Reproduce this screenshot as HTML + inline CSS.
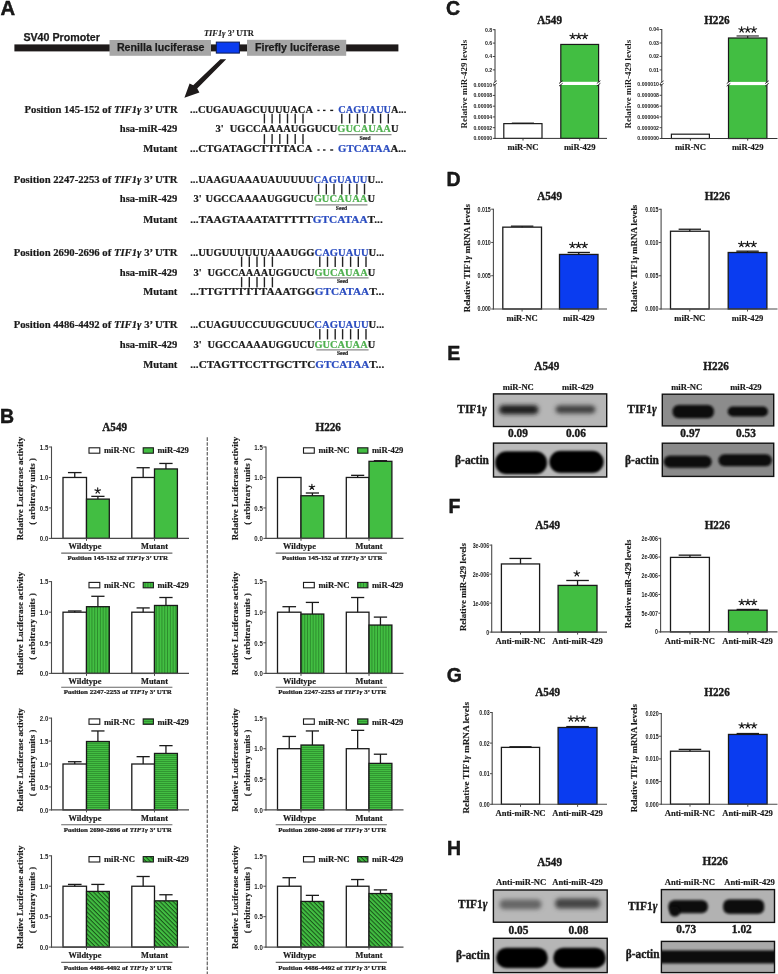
<!DOCTYPE html>
<html><head><meta charset="utf-8"><style>
html,body{margin:0;padding:0;background:#fff;}
svg{display:block;will-change:transform;}
</style></head><body>
<svg width="778" height="974" viewBox="0 0 778 974">
<rect width="778" height="974" fill="#fff"/>
<defs>
<pattern id="pv" patternUnits="userSpaceOnUse" width="2.8" height="10"><rect width="2.8" height="10" fill="#42be42"/><rect x="1.9" width="0.9" height="10" fill="#2b8a2b"/></pattern>
<pattern id="ph" patternUnits="userSpaceOnUse" width="10" height="2.0"><rect width="10" height="2.0" fill="#42be42"/><rect y="1.25" width="10" height="0.75" fill="#2b8a2b"/></pattern>
<pattern id="pd" patternUnits="userSpaceOnUse" width="3.1" height="10" patternTransform="rotate(-45)"><rect width="3.1" height="10" fill="#42be42"/><rect x="2.05" width="1.05" height="10" fill="#1a561a"/></pattern>
<filter id="blur1" x="-30%" y="-60%" width="160%" height="220%"><feGaussianBlur stdDeviation="1.6"/></filter>
<filter id="blur2" x="-30%" y="-60%" width="160%" height="220%"><feGaussianBlur stdDeviation="2.4"/></filter>
<filter id="blur3" x="-10%" y="-30%" width="120%" height="160%"><feGaussianBlur stdDeviation="0.7"/></filter>
<filter id="bl6" x="-40%" y="-80%" width="180%" height="260%"><feGaussianBlur stdDeviation="0.6"/></filter>
<filter id="bl7" x="-40%" y="-80%" width="180%" height="260%"><feGaussianBlur stdDeviation="0.7"/></filter>
<filter id="bl8" x="-40%" y="-80%" width="180%" height="260%"><feGaussianBlur stdDeviation="0.8"/></filter>
<filter id="bl9" x="-40%" y="-80%" width="180%" height="260%"><feGaussianBlur stdDeviation="0.9"/></filter>
<filter id="bl10" x="-40%" y="-80%" width="180%" height="260%"><feGaussianBlur stdDeviation="1.0"/></filter>
<filter id="bl11" x="-40%" y="-80%" width="180%" height="260%"><feGaussianBlur stdDeviation="1.1"/></filter>
<filter id="bl12" x="-40%" y="-80%" width="180%" height="260%"><feGaussianBlur stdDeviation="1.2"/></filter>
<filter id="bl13" x="-40%" y="-80%" width="180%" height="260%"><feGaussianBlur stdDeviation="1.3"/></filter>
<filter id="bl15" x="-40%" y="-80%" width="180%" height="260%"><feGaussianBlur stdDeviation="1.5"/></filter>
<filter id="bl18" x="-40%" y="-80%" width="180%" height="260%"><feGaussianBlur stdDeviation="1.8"/></filter>
<filter id="bl20" x="-40%" y="-80%" width="180%" height="260%"><feGaussianBlur stdDeviation="2.0"/></filter>
</defs>
<text transform="translate(0.60,14.96) scale(1.04,1.0)" x="0" y="0" font-family="Liberation Sans" font-size="19.5" font-weight="bold" text-anchor="start" fill="#1a1a1a" stroke="#000" stroke-width="0.4">A</text>
<rect x="14.40" y="44.40" width="384.00" height="7.00" fill="#1e1a1a" stroke="none" stroke-width="1.0" />
<rect x="109.50" y="40.00" width="101.50" height="15.80" fill="#a6a6a6" stroke="none" stroke-width="1.0" />
<text x="116.90" y="51.30" font-family="Liberation Sans" font-size="10.65" font-weight="bold" text-anchor="start" fill="#1a1a1a" textLength="87.6" lengthAdjust="spacingAndGlyphs" stroke="#1a1a1a" stroke-width="0.25">Renilla luciferase</text>
<rect x="247.00" y="39.80" width="99.20" height="16.00" fill="#a6a6a6" stroke="none" stroke-width="1.0" />
<text x="254.90" y="51.30" font-family="Liberation Sans" font-size="10.65" font-weight="bold" text-anchor="start" fill="#1a1a1a" textLength="85" lengthAdjust="spacingAndGlyphs" stroke="#1a1a1a" stroke-width="0.25">Firefly luciferase</text>
<rect x="216.30" y="42.10" width="23.10" height="11.00" fill="#0a3cf0" stroke="#0b1a50" stroke-width="1.0" />
<text x="23.40" y="40.50" font-family="Liberation Sans" font-size="10.65" font-weight="bold" text-anchor="start" fill="#1a1a1a" textLength="76.5" lengthAdjust="spacingAndGlyphs" stroke="#1a1a1a" stroke-width="0.25">SV40 Promoter</text>
<text transform="translate(203.9,35.5) scale(1,0.92)" font-family="Liberation Serif" font-size="8.4" font-weight="bold" fill="#1a1a1a" stroke="#1a1a1a" stroke-width="0.12" textLength="50" lengthAdjust="spacingAndGlyphs"><tspan font-style="italic">TIF1γ</tspan> 3’ UTR</text>
<path d="M220.4,59.3 L226.2,59.3 L197.2,88.6 L199.4,92.4 L184.4,97.8 L189.6,83.6 L193.2,85.2 Z" fill="#1e1a1a"/>
<text transform="translate(177.6,112.80) scale(1,1.06)" font-family="Liberation Serif" font-size="10.6" font-weight="bold" text-anchor="end" fill="#1a1a1a" stroke="#1a1a1a" stroke-width="0.2" textLength="153.1" lengthAdjust="spacingAndGlyphs">Position 145-152 of <tspan font-style="italic">TIF1γ</tspan> 3’ UTR</text>
<text transform="translate(177.40,132.40) scale(1.0,1.06)" x="0" y="0" font-family="Liberation Serif" font-size="10.6" font-weight="bold" text-anchor="end" fill="#1a1a1a"  stroke="#1a1a1a" stroke-width="0.2">hsa-miR-429</text>
<text transform="translate(177.40,152.40) scale(1.0,1.06)" x="0" y="0" font-family="Liberation Serif" font-size="10.6" font-weight="bold" text-anchor="end" fill="#1a1a1a"  stroke="#1a1a1a" stroke-width="0.2">Mutant</text>
<text transform="translate(190.00,112.80) scale(1,1.06)" font-family="Liberation Serif" font-size="10.6" font-weight="bold" fill="#1a1a1a" stroke="#1a1a1a" stroke-width="0.2" xml:space="preserve" textLength="123.0" lengthAdjust="spacingAndGlyphs">...CUGAUAGCUUUUACA</text>
<line x1="317.40" y1="110.40" x2="319.60" y2="110.40" stroke="#1a1a1a" stroke-width="1.4" />
<line x1="323.00" y1="110.40" x2="325.50" y2="110.40" stroke="#1a1a1a" stroke-width="1.4" />
<line x1="330.20" y1="110.40" x2="333.20" y2="110.40" stroke="#1a1a1a" stroke-width="1.4" />
<text transform="translate(338.30,112.80) scale(1,1.06)" font-family="Liberation Serif" font-size="10.6" font-weight="bold" fill="#1a1a1a" stroke="#1a1a1a" stroke-width="0.2" xml:space="preserve" textLength="68.0" lengthAdjust="spacingAndGlyphs"><tspan fill="#2a4cc0" stroke="#2a4cc0">CAGUAUU</tspan>A...</text>
<text transform="translate(215.40,132.30) scale(1,1.06)" font-family="Liberation Serif" font-size="10.6" font-weight="bold" fill="#1a1a1a" stroke="#1a1a1a" stroke-width="0.2">3&#39;</text>
<text transform="translate(229.70,132.30) scale(1,1.06)" font-family="Liberation Serif" font-size="10.6" font-weight="bold" fill="#1a1a1a" stroke="#1a1a1a" stroke-width="0.2" xml:space="preserve" textLength="168.8" lengthAdjust="spacingAndGlyphs">UGCCAAAAUGGUCU<tspan fill="#4fb04f" stroke="#4fb04f">GUCAUAA</tspan>U</text>
<text transform="translate(190.00,152.40) scale(1,1.06)" font-family="Liberation Serif" font-size="10.6" font-weight="bold" fill="#1a1a1a" stroke="#1a1a1a" stroke-width="0.2" xml:space="preserve" textLength="122.4" lengthAdjust="spacingAndGlyphs">...CTGATAGCTTTTACA</text>
<line x1="317.40" y1="150.00" x2="319.60" y2="150.00" stroke="#1a1a1a" stroke-width="1.4" />
<line x1="323.00" y1="150.00" x2="325.50" y2="150.00" stroke="#1a1a1a" stroke-width="1.4" />
<line x1="330.20" y1="150.00" x2="333.20" y2="150.00" stroke="#1a1a1a" stroke-width="1.4" />
<text transform="translate(338.10,152.40) scale(1,1.06)" font-family="Liberation Serif" font-size="10.6" font-weight="bold" fill="#1a1a1a" stroke="#1a1a1a" stroke-width="0.2" xml:space="preserve" textLength="68.2" lengthAdjust="spacingAndGlyphs"><tspan fill="#2a4cc0" stroke="#2a4cc0">GTCATAA</tspan>A...</text>
<line x1="264.40" y1="113.70" x2="264.40" y2="123.40" stroke="#222" stroke-width="1.4" />
<line x1="272.10" y1="113.70" x2="272.10" y2="123.40" stroke="#222" stroke-width="1.4" />
<line x1="279.80" y1="113.70" x2="279.80" y2="123.40" stroke="#222" stroke-width="1.4" />
<line x1="287.50" y1="113.70" x2="287.50" y2="123.40" stroke="#222" stroke-width="1.4" />
<line x1="295.20" y1="113.70" x2="295.20" y2="123.40" stroke="#222" stroke-width="1.4" />
<line x1="303.00" y1="113.70" x2="303.00" y2="123.40" stroke="#222" stroke-width="1.4" />
<line x1="341.80" y1="113.70" x2="341.80" y2="123.40" stroke="#222" stroke-width="1.4" />
<line x1="349.60" y1="113.70" x2="349.60" y2="123.40" stroke="#222" stroke-width="1.4" />
<line x1="357.40" y1="113.70" x2="357.40" y2="123.40" stroke="#222" stroke-width="1.4" />
<line x1="364.90" y1="113.70" x2="364.90" y2="123.40" stroke="#222" stroke-width="1.4" />
<line x1="372.80" y1="113.70" x2="372.80" y2="123.40" stroke="#222" stroke-width="1.4" />
<line x1="380.60" y1="113.70" x2="380.60" y2="123.40" stroke="#222" stroke-width="1.4" />
<line x1="388.30" y1="113.70" x2="388.30" y2="123.40" stroke="#222" stroke-width="1.4" />
<line x1="264.40" y1="134.10" x2="264.40" y2="144.10" stroke="#222" stroke-width="1.4" />
<line x1="272.10" y1="134.10" x2="272.10" y2="144.10" stroke="#222" stroke-width="1.4" />
<line x1="279.80" y1="134.10" x2="279.80" y2="144.10" stroke="#222" stroke-width="1.4" />
<line x1="287.50" y1="134.10" x2="287.50" y2="144.10" stroke="#222" stroke-width="1.4" />
<line x1="295.20" y1="134.10" x2="295.20" y2="144.10" stroke="#222" stroke-width="1.4" />
<line x1="303.00" y1="134.10" x2="303.00" y2="144.10" stroke="#222" stroke-width="1.4" />
<line x1="338.60" y1="134.60" x2="391.50" y2="134.60" stroke="#8a8a8a" stroke-width="1.2" />
<text x="365.05" y="140.40" font-family="Liberation Serif" font-size="5.6" font-weight="bold" text-anchor="middle" fill="#1a1a1a"  stroke="#1a1a1a" stroke-width="0.15">Seed</text>
<text transform="translate(177.6,182.50) scale(1,1.06)" font-family="Liberation Serif" font-size="10.6" font-weight="bold" text-anchor="end" fill="#1a1a1a" stroke="#1a1a1a" stroke-width="0.2" textLength="163.9" lengthAdjust="spacingAndGlyphs">Position 2247-2253 of <tspan font-style="italic">TIF1γ</tspan> 3’ UTR</text>
<text transform="translate(177.40,202.30) scale(1.0,1.06)" x="0" y="0" font-family="Liberation Serif" font-size="10.6" font-weight="bold" text-anchor="end" fill="#1a1a1a"  stroke="#1a1a1a" stroke-width="0.2">hsa-miR-429</text>
<text transform="translate(177.40,222.50) scale(1.0,1.06)" x="0" y="0" font-family="Liberation Serif" font-size="10.6" font-weight="bold" text-anchor="end" fill="#1a1a1a"  stroke="#1a1a1a" stroke-width="0.2">Mutant</text>
<text transform="translate(190.20,182.50) scale(1,1.06)" font-family="Liberation Serif" font-size="10.6" font-weight="bold" fill="#1a1a1a" stroke="#1a1a1a" stroke-width="0.2" xml:space="preserve" textLength="192.9" lengthAdjust="spacingAndGlyphs">...UAAGUAAAUAUUUUU<tspan fill="#2a4cc0" stroke="#2a4cc0">CAGUAUU</tspan>U...</text>
<text transform="translate(193.40,202.40) scale(1,1.06)" font-family="Liberation Serif" font-size="10.6" font-weight="bold" fill="#1a1a1a" stroke="#1a1a1a" stroke-width="0.2">3&#39;</text>
<text transform="translate(205.60,202.40) scale(1,1.06)" font-family="Liberation Serif" font-size="10.6" font-weight="bold" fill="#1a1a1a" stroke="#1a1a1a" stroke-width="0.2" xml:space="preserve" textLength="169.4" lengthAdjust="spacingAndGlyphs">UGCCAAAAUGGUCU<tspan fill="#4fb04f" stroke="#4fb04f">GUCAUAA</tspan>U</text>
<text transform="translate(190.20,222.50) scale(1,1.06)" font-family="Liberation Serif" font-size="10.6" font-weight="bold" fill="#1a1a1a" stroke="#1a1a1a" stroke-width="0.2" xml:space="preserve" textLength="192.6" lengthAdjust="spacingAndGlyphs">...TAAGTAAATATTTTT<tspan fill="#2a4cc0" stroke="#2a4cc0">GTCATAA</tspan>T...</text>
<line x1="318.60" y1="183.70" x2="318.60" y2="194.50" stroke="#222" stroke-width="1.4" />
<line x1="326.30" y1="183.70" x2="326.30" y2="194.50" stroke="#222" stroke-width="1.4" />
<line x1="334.00" y1="183.70" x2="334.00" y2="194.50" stroke="#222" stroke-width="1.4" />
<line x1="341.80" y1="183.70" x2="341.80" y2="194.50" stroke="#222" stroke-width="1.4" />
<line x1="349.50" y1="183.70" x2="349.50" y2="194.50" stroke="#222" stroke-width="1.4" />
<line x1="356.90" y1="183.70" x2="356.90" y2="194.50" stroke="#222" stroke-width="1.4" />
<line x1="364.50" y1="183.70" x2="364.50" y2="194.50" stroke="#222" stroke-width="1.4" />
<line x1="315.40" y1="204.80" x2="367.50" y2="204.80" stroke="#8a8a8a" stroke-width="1.2" />
<text x="341.45" y="210.30" font-family="Liberation Serif" font-size="5.6" font-weight="bold" text-anchor="middle" fill="#1a1a1a"  stroke="#1a1a1a" stroke-width="0.15">Seed</text>
<text transform="translate(177.6,255.50) scale(1,1.06)" font-family="Liberation Serif" font-size="10.6" font-weight="bold" text-anchor="end" fill="#1a1a1a" stroke="#1a1a1a" stroke-width="0.2" textLength="163.9" lengthAdjust="spacingAndGlyphs">Position 2690-2696 of <tspan font-style="italic">TIF1γ</tspan> 3’ UTR</text>
<text transform="translate(177.40,275.60) scale(1.0,1.06)" x="0" y="0" font-family="Liberation Serif" font-size="10.6" font-weight="bold" text-anchor="end" fill="#1a1a1a"  stroke="#1a1a1a" stroke-width="0.2">hsa-miR-429</text>
<text transform="translate(177.40,295.40) scale(1.0,1.06)" x="0" y="0" font-family="Liberation Serif" font-size="10.6" font-weight="bold" text-anchor="end" fill="#1a1a1a"  stroke="#1a1a1a" stroke-width="0.2">Mutant</text>
<text transform="translate(190.30,255.50) scale(1,1.06)" font-family="Liberation Serif" font-size="10.6" font-weight="bold" fill="#1a1a1a" stroke="#1a1a1a" stroke-width="0.2" xml:space="preserve" textLength="193.9" lengthAdjust="spacingAndGlyphs">...UUGUUUUUUAAAUGG<tspan fill="#2a4cc0" stroke="#2a4cc0">CAGUAUU</tspan>U...</text>
<text transform="translate(193.40,275.60) scale(1,1.06)" font-family="Liberation Serif" font-size="10.6" font-weight="bold" fill="#1a1a1a" stroke="#1a1a1a" stroke-width="0.2">3&#39;</text>
<text transform="translate(207.50,275.60) scale(1,1.06)" font-family="Liberation Serif" font-size="10.6" font-weight="bold" fill="#1a1a1a" stroke="#1a1a1a" stroke-width="0.2" xml:space="preserve" textLength="167.7" lengthAdjust="spacingAndGlyphs">UGCCAAAAUGGUCU<tspan fill="#4fb04f" stroke="#4fb04f">GUCAUAA</tspan>U</text>
<text transform="translate(190.30,295.40) scale(1,1.06)" font-family="Liberation Serif" font-size="10.6" font-weight="bold" fill="#1a1a1a" stroke="#1a1a1a" stroke-width="0.2" xml:space="preserve" textLength="193.9" lengthAdjust="spacingAndGlyphs">...TTGTTTTTTAAATGG<tspan fill="#2a4cc0" stroke="#2a4cc0">GTCATAA</tspan>T...</text>
<line x1="241.60" y1="256.60" x2="241.60" y2="266.90" stroke="#222" stroke-width="1.4" />
<line x1="249.30" y1="256.60" x2="249.30" y2="266.90" stroke="#222" stroke-width="1.4" />
<line x1="257.00" y1="256.60" x2="257.00" y2="266.90" stroke="#222" stroke-width="1.4" />
<line x1="264.40" y1="256.60" x2="264.40" y2="266.90" stroke="#222" stroke-width="1.4" />
<line x1="272.40" y1="256.60" x2="272.40" y2="266.90" stroke="#222" stroke-width="1.4" />
<line x1="319.80" y1="256.60" x2="319.80" y2="266.90" stroke="#222" stroke-width="1.4" />
<line x1="327.50" y1="256.60" x2="327.50" y2="266.90" stroke="#222" stroke-width="1.4" />
<line x1="335.20" y1="256.60" x2="335.20" y2="266.90" stroke="#222" stroke-width="1.4" />
<line x1="342.60" y1="256.60" x2="342.60" y2="266.90" stroke="#222" stroke-width="1.4" />
<line x1="350.60" y1="256.60" x2="350.60" y2="266.90" stroke="#222" stroke-width="1.4" />
<line x1="358.30" y1="256.60" x2="358.30" y2="266.90" stroke="#222" stroke-width="1.4" />
<line x1="366.00" y1="256.60" x2="366.00" y2="266.90" stroke="#222" stroke-width="1.4" />
<line x1="241.60" y1="277.10" x2="241.60" y2="287.40" stroke="#222" stroke-width="1.4" />
<line x1="249.30" y1="277.10" x2="249.30" y2="287.40" stroke="#222" stroke-width="1.4" />
<line x1="257.00" y1="277.10" x2="257.00" y2="287.40" stroke="#222" stroke-width="1.4" />
<line x1="264.40" y1="277.10" x2="264.40" y2="287.40" stroke="#222" stroke-width="1.4" />
<line x1="272.40" y1="277.10" x2="272.40" y2="287.40" stroke="#222" stroke-width="1.4" />
<line x1="316.40" y1="277.80" x2="368.60" y2="277.80" stroke="#8a8a8a" stroke-width="1.2" />
<text x="342.50" y="283.10" font-family="Liberation Serif" font-size="5.6" font-weight="bold" text-anchor="middle" fill="#1a1a1a"  stroke="#1a1a1a" stroke-width="0.15">Seed</text>
<text transform="translate(177.6,328.00) scale(1,1.06)" font-family="Liberation Serif" font-size="10.6" font-weight="bold" text-anchor="end" fill="#1a1a1a" stroke="#1a1a1a" stroke-width="0.2" textLength="163.9" lengthAdjust="spacingAndGlyphs">Position 4486-4492 of <tspan font-style="italic">TIF1γ</tspan> 3’ UTR</text>
<text transform="translate(177.40,347.60) scale(1.0,1.06)" x="0" y="0" font-family="Liberation Serif" font-size="10.6" font-weight="bold" text-anchor="end" fill="#1a1a1a"  stroke="#1a1a1a" stroke-width="0.2">hsa-miR-429</text>
<text transform="translate(177.40,367.90) scale(1.0,1.06)" x="0" y="0" font-family="Liberation Serif" font-size="10.6" font-weight="bold" text-anchor="end" fill="#1a1a1a"  stroke="#1a1a1a" stroke-width="0.2">Mutant</text>
<text transform="translate(190.30,328.00) scale(1,1.06)" font-family="Liberation Serif" font-size="10.6" font-weight="bold" fill="#1a1a1a" stroke="#1a1a1a" stroke-width="0.2" xml:space="preserve" textLength="193.9" lengthAdjust="spacingAndGlyphs">...CUAGUUCCUUGCUUC<tspan fill="#2a4cc0" stroke="#2a4cc0">CAGUAUU</tspan>U...</text>
<text transform="translate(193.40,347.60) scale(1,1.06)" font-family="Liberation Serif" font-size="10.6" font-weight="bold" fill="#1a1a1a" stroke="#1a1a1a" stroke-width="0.2">3&#39;</text>
<text transform="translate(207.50,347.60) scale(1,1.06)" font-family="Liberation Serif" font-size="10.6" font-weight="bold" fill="#1a1a1a" stroke="#1a1a1a" stroke-width="0.2" xml:space="preserve" textLength="167.7" lengthAdjust="spacingAndGlyphs">UGCCAAAAUGGUCU<tspan fill="#4fb04f" stroke="#4fb04f">GUCAUAA</tspan>U</text>
<text transform="translate(190.30,367.90) scale(1,1.06)" font-family="Liberation Serif" font-size="10.6" font-weight="bold" fill="#1a1a1a" stroke="#1a1a1a" stroke-width="0.2" xml:space="preserve" textLength="193.9" lengthAdjust="spacingAndGlyphs">...CTAGTTCCTTGCTTC<tspan fill="#2a4cc0" stroke="#2a4cc0">GTCATAA</tspan>T...</text>
<line x1="319.80" y1="329.10" x2="319.80" y2="339.40" stroke="#222" stroke-width="1.4" />
<line x1="327.50" y1="329.10" x2="327.50" y2="339.40" stroke="#222" stroke-width="1.4" />
<line x1="335.20" y1="329.10" x2="335.20" y2="339.40" stroke="#222" stroke-width="1.4" />
<line x1="342.60" y1="329.10" x2="342.60" y2="339.40" stroke="#222" stroke-width="1.4" />
<line x1="350.60" y1="329.10" x2="350.60" y2="339.40" stroke="#222" stroke-width="1.4" />
<line x1="358.30" y1="329.10" x2="358.30" y2="339.40" stroke="#222" stroke-width="1.4" />
<line x1="366.00" y1="329.10" x2="366.00" y2="339.40" stroke="#222" stroke-width="1.4" />
<line x1="316.40" y1="349.80" x2="368.60" y2="349.80" stroke="#8a8a8a" stroke-width="1.2" />
<text x="342.50" y="355.10" font-family="Liberation Serif" font-size="5.6" font-weight="bold" text-anchor="middle" fill="#1a1a1a"  stroke="#1a1a1a" stroke-width="0.15">Seed</text>
<text x="0.00" y="422.66" font-family="Liberation Sans" font-size="19.5" font-weight="bold" text-anchor="start" fill="#1a1a1a" stroke="#000" stroke-width="0.4">B</text>
<text transform="translate(114.70,430.50) scale(1.0,1.14)" x="0" y="0" font-family="Liberation Serif" font-size="11.2" font-weight="bold" text-anchor="middle" fill="#1a1a1a"  stroke="#1a1a1a" stroke-width="0.35">A549</text>
<text transform="translate(328.20,430.50) scale(1.0,1.14)" x="0" y="0" font-family="Liberation Serif" font-size="11.2" font-weight="bold" text-anchor="middle" fill="#1a1a1a"  stroke="#1a1a1a" stroke-width="0.35">H226</text>
<line x1="207.30" y1="437.30" x2="207.30" y2="974.00" stroke="#6a6a6a" stroke-width="1.3" stroke-dasharray="3.6,1.3"/>
<rect x="63.00" y="477.47" width="23.50" height="60.93" fill="#ffffff" stroke="#1a1a1a" stroke-width="1.3" />
<line x1="74.75" y1="477.47" x2="74.75" y2="472.59" stroke="#1a1a1a" stroke-width="1.3" />
<line x1="67.94" y1="472.59" x2="81.56" y2="472.59" stroke="#1a1a1a" stroke-width="1.3" />
<rect x="86.50" y="499.10" width="22.80" height="39.30" fill="#42be42" stroke="#1a1a1a" stroke-width="1.3" />
<line x1="97.90" y1="499.10" x2="97.90" y2="496.36" stroke="#1a1a1a" stroke-width="1.3" />
<line x1="91.29" y1="496.36" x2="104.51" y2="496.36" stroke="#1a1a1a" stroke-width="1.3" />
<rect x="131.80" y="477.47" width="22.70" height="60.93" fill="#ffffff" stroke="#1a1a1a" stroke-width="1.3" />
<line x1="143.15" y1="477.47" x2="143.15" y2="467.72" stroke="#1a1a1a" stroke-width="1.3" />
<line x1="136.57" y1="467.72" x2="149.73" y2="467.72" stroke="#1a1a1a" stroke-width="1.3" />
<rect x="154.50" y="468.94" width="22.90" height="69.46" fill="#42be42" stroke="#1a1a1a" stroke-width="1.3" />
<line x1="165.95" y1="468.94" x2="165.95" y2="463.45" stroke="#1a1a1a" stroke-width="1.3" />
<line x1="159.31" y1="463.45" x2="172.59" y2="463.45" stroke="#1a1a1a" stroke-width="1.3" />
<line x1="51.50" y1="446.50" x2="51.50" y2="538.90" stroke="#4a4a4a" stroke-width="1.1" />
<line x1="51.00" y1="538.40" x2="189.00" y2="538.40" stroke="#4a4a4a" stroke-width="1.1" />
<line x1="48.90" y1="538.40" x2="51.50" y2="538.40" stroke="#4a4a4a" stroke-width="0.9900000000000001" />
<text transform="translate(48.30,541.10) scale(0.81,1.0)" x="0" y="0" font-family="Liberation Sans" font-size="7.5" font-weight="bold" text-anchor="end" fill="#1e1e1e" >0.0</text>
<line x1="48.90" y1="507.93" x2="51.50" y2="507.93" stroke="#4a4a4a" stroke-width="0.9900000000000001" />
<text transform="translate(48.30,510.63) scale(0.81,1.0)" x="0" y="0" font-family="Liberation Sans" font-size="7.5" font-weight="bold" text-anchor="end" fill="#1e1e1e" >0.5</text>
<line x1="48.90" y1="477.47" x2="51.50" y2="477.47" stroke="#4a4a4a" stroke-width="0.9900000000000001" />
<text transform="translate(48.30,480.17) scale(0.81,1.0)" x="0" y="0" font-family="Liberation Sans" font-size="7.5" font-weight="bold" text-anchor="end" fill="#1e1e1e" >1.0</text>
<line x1="48.90" y1="447.00" x2="51.50" y2="447.00" stroke="#4a4a4a" stroke-width="0.9900000000000001" />
<text transform="translate(48.30,449.70) scale(0.81,1.0)" x="0" y="0" font-family="Liberation Sans" font-size="7.5" font-weight="bold" text-anchor="end" fill="#1e1e1e" >1.5</text>
<line x1="86.50" y1="538.40" x2="86.50" y2="540.90" stroke="#4a4a4a" stroke-width="0.9900000000000001" />
<line x1="154.50" y1="538.40" x2="154.50" y2="540.90" stroke="#4a4a4a" stroke-width="0.9900000000000001" />
<text transform="translate(23.30,488.60) rotate(-90)" font-family="Liberation Serif" font-size="8.9" font-weight="bold" text-anchor="middle" fill="#1a1a1a" stroke="#1a1a1a" stroke-width="0.15" textLength="103.5" lengthAdjust="spacingAndGlyphs">Relative Luciferase activity</text>
<text transform="translate(35.20,491.40) rotate(-90)" font-family="Liberation Serif" font-size="8.9" font-weight="bold" text-anchor="middle" fill="#1a1a1a" stroke="#1a1a1a" stroke-width="0.15" textLength="66.5" lengthAdjust="spacingAndGlyphs">( arbitrary units )</text>
<rect x="89.00" y="447.80" width="10.80" height="5.40" fill="#fff" stroke="#1a1a1a" stroke-width="1.1" />
<text x="103.90" y="453.40" font-family="Liberation Serif" font-size="8.6" font-weight="bold" text-anchor="start" fill="#1a1a1a"  stroke="#1a1a1a" stroke-width="0.18">miR-NC</text>
<rect x="143.20" y="447.80" width="10.20" height="5.40" fill="#42be42" stroke="#1a1a1a" stroke-width="1.1" />
<text x="157.40" y="453.40" font-family="Liberation Serif" font-size="8.6" font-weight="bold" text-anchor="start" fill="#1a1a1a"  stroke="#1a1a1a" stroke-width="0.18">miR-429</text>
<text x="85.00" y="549.40" font-family="Liberation Serif" font-size="8.4" font-weight="bold" text-anchor="middle" fill="#1a1a1a"  stroke="#1a1a1a" stroke-width="0.18">Wildtype</text>
<text x="154.50" y="549.40" font-family="Liberation Serif" font-size="8.4" font-weight="bold" text-anchor="middle" fill="#1a1a1a"  stroke="#1a1a1a" stroke-width="0.18">Mutant</text>
<line x1="61.20" y1="553.10" x2="172.40" y2="553.10" stroke="#666" stroke-width="1.1" />
<text transform="translate(117.70,559.80) scale(1,0.92)" font-family="Liberation Serif" font-size="7.0" font-weight="bold" text-anchor="middle" fill="#1a1a1a" stroke="#1a1a1a" stroke-width="0.25" textLength="100.6" lengthAdjust="spacing">Position 145-152 of <tspan font-style="italic">TIF1γ</tspan> 3’ UTR</text>
<rect x="277.50" y="477.47" width="23.50" height="60.93" fill="#ffffff" stroke="#1a1a1a" stroke-width="1.3" />
<rect x="301.00" y="495.75" width="22.80" height="42.65" fill="#42be42" stroke="#1a1a1a" stroke-width="1.3" />
<line x1="312.40" y1="495.75" x2="312.40" y2="493.00" stroke="#1a1a1a" stroke-width="1.3" />
<line x1="305.79" y1="493.00" x2="319.01" y2="493.00" stroke="#1a1a1a" stroke-width="1.3" />
<rect x="346.30" y="477.47" width="22.70" height="60.93" fill="#ffffff" stroke="#1a1a1a" stroke-width="1.3" />
<line x1="357.65" y1="477.47" x2="357.65" y2="475.33" stroke="#1a1a1a" stroke-width="1.3" />
<line x1="351.07" y1="475.33" x2="364.23" y2="475.33" stroke="#1a1a1a" stroke-width="1.3" />
<rect x="369.00" y="461.32" width="22.90" height="77.08" fill="#42be42" stroke="#1a1a1a" stroke-width="1.3" />
<line x1="380.45" y1="461.32" x2="380.45" y2="460.71" stroke="#1a1a1a" stroke-width="1.3" />
<line x1="373.81" y1="460.71" x2="387.09" y2="460.71" stroke="#1a1a1a" stroke-width="1.3" />
<line x1="266.00" y1="446.50" x2="266.00" y2="538.90" stroke="#4a4a4a" stroke-width="1.1" />
<line x1="265.50" y1="538.40" x2="403.50" y2="538.40" stroke="#4a4a4a" stroke-width="1.1" />
<line x1="263.40" y1="538.40" x2="266.00" y2="538.40" stroke="#4a4a4a" stroke-width="0.9900000000000001" />
<text transform="translate(262.80,541.10) scale(0.81,1.0)" x="0" y="0" font-family="Liberation Sans" font-size="7.5" font-weight="bold" text-anchor="end" fill="#1e1e1e" >0.0</text>
<line x1="263.40" y1="507.93" x2="266.00" y2="507.93" stroke="#4a4a4a" stroke-width="0.9900000000000001" />
<text transform="translate(262.80,510.63) scale(0.81,1.0)" x="0" y="0" font-family="Liberation Sans" font-size="7.5" font-weight="bold" text-anchor="end" fill="#1e1e1e" >0.5</text>
<line x1="263.40" y1="477.47" x2="266.00" y2="477.47" stroke="#4a4a4a" stroke-width="0.9900000000000001" />
<text transform="translate(262.80,480.17) scale(0.81,1.0)" x="0" y="0" font-family="Liberation Sans" font-size="7.5" font-weight="bold" text-anchor="end" fill="#1e1e1e" >1.0</text>
<line x1="263.40" y1="447.00" x2="266.00" y2="447.00" stroke="#4a4a4a" stroke-width="0.9900000000000001" />
<text transform="translate(262.80,449.70) scale(0.81,1.0)" x="0" y="0" font-family="Liberation Sans" font-size="7.5" font-weight="bold" text-anchor="end" fill="#1e1e1e" >1.5</text>
<line x1="301.00" y1="538.40" x2="301.00" y2="540.90" stroke="#4a4a4a" stroke-width="0.9900000000000001" />
<line x1="369.00" y1="538.40" x2="369.00" y2="540.90" stroke="#4a4a4a" stroke-width="0.9900000000000001" />
<text transform="translate(237.80,488.60) rotate(-90)" font-family="Liberation Serif" font-size="8.9" font-weight="bold" text-anchor="middle" fill="#1a1a1a" stroke="#1a1a1a" stroke-width="0.15" textLength="103.5" lengthAdjust="spacingAndGlyphs">Relative Luciferase activity</text>
<text transform="translate(249.70,491.40) rotate(-90)" font-family="Liberation Serif" font-size="8.9" font-weight="bold" text-anchor="middle" fill="#1a1a1a" stroke="#1a1a1a" stroke-width="0.15" textLength="66.5" lengthAdjust="spacingAndGlyphs">( arbitrary units )</text>
<rect x="303.50" y="447.80" width="10.80" height="5.40" fill="#fff" stroke="#1a1a1a" stroke-width="1.1" />
<text x="318.40" y="453.40" font-family="Liberation Serif" font-size="8.6" font-weight="bold" text-anchor="start" fill="#1a1a1a"  stroke="#1a1a1a" stroke-width="0.18">miR-NC</text>
<rect x="357.70" y="447.80" width="10.20" height="5.40" fill="#42be42" stroke="#1a1a1a" stroke-width="1.1" />
<text x="371.90" y="453.40" font-family="Liberation Serif" font-size="8.6" font-weight="bold" text-anchor="start" fill="#1a1a1a"  stroke="#1a1a1a" stroke-width="0.18">miR-429</text>
<text x="299.50" y="549.40" font-family="Liberation Serif" font-size="8.4" font-weight="bold" text-anchor="middle" fill="#1a1a1a"  stroke="#1a1a1a" stroke-width="0.18">Wildtype</text>
<text x="369.00" y="549.40" font-family="Liberation Serif" font-size="8.4" font-weight="bold" text-anchor="middle" fill="#1a1a1a"  stroke="#1a1a1a" stroke-width="0.18">Mutant</text>
<line x1="275.70" y1="553.10" x2="386.90" y2="553.10" stroke="#666" stroke-width="1.1" />
<text transform="translate(332.20,559.80) scale(1,0.92)" font-family="Liberation Serif" font-size="7.0" font-weight="bold" text-anchor="middle" fill="#1a1a1a" stroke="#1a1a1a" stroke-width="0.25" textLength="100.6" lengthAdjust="spacing">Position 145-152 of <tspan font-style="italic">TIF1γ</tspan> 3’ UTR</text>
<rect x="63.00" y="612.20" width="23.50" height="61.20" fill="#ffffff" stroke="#1a1a1a" stroke-width="1.3" />
<line x1="74.75" y1="612.20" x2="74.75" y2="610.98" stroke="#1a1a1a" stroke-width="1.3" />
<line x1="67.94" y1="610.98" x2="81.56" y2="610.98" stroke="#1a1a1a" stroke-width="1.3" />
<rect x="86.50" y="606.69" width="22.80" height="66.71" fill="#42be42" stroke="none" stroke-width="1.0" />
<rect x="86.50" y="606.69" width="22.80" height="66.71" fill="url(#pv)" stroke="#1a1a1a" stroke-width="1.3" />
<line x1="97.90" y1="606.69" x2="97.90" y2="596.29" stroke="#1a1a1a" stroke-width="1.3" />
<line x1="91.29" y1="596.29" x2="104.51" y2="596.29" stroke="#1a1a1a" stroke-width="1.3" />
<rect x="131.80" y="612.20" width="22.70" height="61.20" fill="#ffffff" stroke="#1a1a1a" stroke-width="1.3" />
<line x1="143.15" y1="612.20" x2="143.15" y2="607.92" stroke="#1a1a1a" stroke-width="1.3" />
<line x1="136.57" y1="607.92" x2="149.73" y2="607.92" stroke="#1a1a1a" stroke-width="1.3" />
<rect x="154.50" y="605.47" width="22.90" height="67.93" fill="#42be42" stroke="none" stroke-width="1.0" />
<rect x="154.50" y="605.47" width="22.90" height="67.93" fill="url(#pv)" stroke="#1a1a1a" stroke-width="1.3" />
<line x1="165.95" y1="605.47" x2="165.95" y2="597.51" stroke="#1a1a1a" stroke-width="1.3" />
<line x1="159.31" y1="597.51" x2="172.59" y2="597.51" stroke="#1a1a1a" stroke-width="1.3" />
<line x1="51.50" y1="581.10" x2="51.50" y2="673.90" stroke="#4a4a4a" stroke-width="1.1" />
<line x1="51.00" y1="673.40" x2="189.00" y2="673.40" stroke="#4a4a4a" stroke-width="1.1" />
<line x1="48.90" y1="673.40" x2="51.50" y2="673.40" stroke="#4a4a4a" stroke-width="0.9900000000000001" />
<text transform="translate(48.30,676.10) scale(0.81,1.0)" x="0" y="0" font-family="Liberation Sans" font-size="7.5" font-weight="bold" text-anchor="end" fill="#1e1e1e" >0.0</text>
<line x1="48.90" y1="642.80" x2="51.50" y2="642.80" stroke="#4a4a4a" stroke-width="0.9900000000000001" />
<text transform="translate(48.30,645.50) scale(0.81,1.0)" x="0" y="0" font-family="Liberation Sans" font-size="7.5" font-weight="bold" text-anchor="end" fill="#1e1e1e" >0.5</text>
<line x1="48.90" y1="612.20" x2="51.50" y2="612.20" stroke="#4a4a4a" stroke-width="0.9900000000000001" />
<text transform="translate(48.30,614.90) scale(0.81,1.0)" x="0" y="0" font-family="Liberation Sans" font-size="7.5" font-weight="bold" text-anchor="end" fill="#1e1e1e" >1.0</text>
<line x1="48.90" y1="581.60" x2="51.50" y2="581.60" stroke="#4a4a4a" stroke-width="0.9900000000000001" />
<text transform="translate(48.30,584.30) scale(0.81,1.0)" x="0" y="0" font-family="Liberation Sans" font-size="7.5" font-weight="bold" text-anchor="end" fill="#1e1e1e" >1.5</text>
<line x1="86.50" y1="673.40" x2="86.50" y2="675.90" stroke="#4a4a4a" stroke-width="0.9900000000000001" />
<line x1="154.50" y1="673.40" x2="154.50" y2="675.90" stroke="#4a4a4a" stroke-width="0.9900000000000001" />
<text transform="translate(23.30,623.60) rotate(-90)" font-family="Liberation Serif" font-size="8.9" font-weight="bold" text-anchor="middle" fill="#1a1a1a" stroke="#1a1a1a" stroke-width="0.15" textLength="103.5" lengthAdjust="spacingAndGlyphs">Relative Luciferase activity</text>
<text transform="translate(35.20,626.40) rotate(-90)" font-family="Liberation Serif" font-size="8.9" font-weight="bold" text-anchor="middle" fill="#1a1a1a" stroke="#1a1a1a" stroke-width="0.15" textLength="66.5" lengthAdjust="spacingAndGlyphs">( arbitrary units )</text>
<rect x="89.00" y="582.40" width="10.80" height="5.40" fill="#fff" stroke="#1a1a1a" stroke-width="1.1" />
<text x="103.90" y="588.00" font-family="Liberation Serif" font-size="8.6" font-weight="bold" text-anchor="start" fill="#1a1a1a"  stroke="#1a1a1a" stroke-width="0.18">miR-NC</text>
<rect x="143.20" y="582.40" width="10.20" height="5.40" fill="url(#pv)" stroke="#1a1a1a" stroke-width="1.1" />
<text x="157.40" y="588.00" font-family="Liberation Serif" font-size="8.6" font-weight="bold" text-anchor="start" fill="#1a1a1a"  stroke="#1a1a1a" stroke-width="0.18">miR-429</text>
<text x="85.00" y="684.40" font-family="Liberation Serif" font-size="8.4" font-weight="bold" text-anchor="middle" fill="#1a1a1a"  stroke="#1a1a1a" stroke-width="0.18">Wildtype</text>
<text x="154.50" y="684.40" font-family="Liberation Serif" font-size="8.4" font-weight="bold" text-anchor="middle" fill="#1a1a1a"  stroke="#1a1a1a" stroke-width="0.18">Mutant</text>
<line x1="61.20" y1="687.30" x2="172.40" y2="687.30" stroke="#666" stroke-width="1.1" />
<text transform="translate(117.70,694.30) scale(1,0.92)" font-family="Liberation Serif" font-size="7.0" font-weight="bold" text-anchor="middle" fill="#1a1a1a" stroke="#1a1a1a" stroke-width="0.25" textLength="108" lengthAdjust="spacing">Position 2247-2253 of <tspan font-style="italic">TIF1γ</tspan> 3’ UTR</text>
<rect x="277.50" y="612.20" width="23.50" height="61.20" fill="#ffffff" stroke="#1a1a1a" stroke-width="1.3" />
<line x1="289.25" y1="612.20" x2="289.25" y2="606.69" stroke="#1a1a1a" stroke-width="1.3" />
<line x1="282.44" y1="606.69" x2="296.06" y2="606.69" stroke="#1a1a1a" stroke-width="1.3" />
<rect x="301.00" y="614.04" width="22.80" height="59.36" fill="#42be42" stroke="none" stroke-width="1.0" />
<rect x="301.00" y="614.04" width="22.80" height="59.36" fill="url(#pv)" stroke="#1a1a1a" stroke-width="1.3" />
<line x1="312.40" y1="614.04" x2="312.40" y2="602.41" stroke="#1a1a1a" stroke-width="1.3" />
<line x1="305.79" y1="602.41" x2="319.01" y2="602.41" stroke="#1a1a1a" stroke-width="1.3" />
<rect x="346.30" y="612.20" width="22.70" height="61.20" fill="#ffffff" stroke="#1a1a1a" stroke-width="1.3" />
<line x1="357.65" y1="612.20" x2="357.65" y2="597.51" stroke="#1a1a1a" stroke-width="1.3" />
<line x1="351.07" y1="597.51" x2="364.23" y2="597.51" stroke="#1a1a1a" stroke-width="1.3" />
<rect x="369.00" y="625.05" width="22.90" height="48.35" fill="#42be42" stroke="none" stroke-width="1.0" />
<rect x="369.00" y="625.05" width="22.90" height="48.35" fill="url(#pv)" stroke="#1a1a1a" stroke-width="1.3" />
<line x1="380.45" y1="625.05" x2="380.45" y2="617.10" stroke="#1a1a1a" stroke-width="1.3" />
<line x1="373.81" y1="617.10" x2="387.09" y2="617.10" stroke="#1a1a1a" stroke-width="1.3" />
<line x1="266.00" y1="581.10" x2="266.00" y2="673.90" stroke="#4a4a4a" stroke-width="1.1" />
<line x1="265.50" y1="673.40" x2="403.50" y2="673.40" stroke="#4a4a4a" stroke-width="1.1" />
<line x1="263.40" y1="673.40" x2="266.00" y2="673.40" stroke="#4a4a4a" stroke-width="0.9900000000000001" />
<text transform="translate(262.80,676.10) scale(0.81,1.0)" x="0" y="0" font-family="Liberation Sans" font-size="7.5" font-weight="bold" text-anchor="end" fill="#1e1e1e" >0.0</text>
<line x1="263.40" y1="642.80" x2="266.00" y2="642.80" stroke="#4a4a4a" stroke-width="0.9900000000000001" />
<text transform="translate(262.80,645.50) scale(0.81,1.0)" x="0" y="0" font-family="Liberation Sans" font-size="7.5" font-weight="bold" text-anchor="end" fill="#1e1e1e" >0.5</text>
<line x1="263.40" y1="612.20" x2="266.00" y2="612.20" stroke="#4a4a4a" stroke-width="0.9900000000000001" />
<text transform="translate(262.80,614.90) scale(0.81,1.0)" x="0" y="0" font-family="Liberation Sans" font-size="7.5" font-weight="bold" text-anchor="end" fill="#1e1e1e" >1.0</text>
<line x1="263.40" y1="581.60" x2="266.00" y2="581.60" stroke="#4a4a4a" stroke-width="0.9900000000000001" />
<text transform="translate(262.80,584.30) scale(0.81,1.0)" x="0" y="0" font-family="Liberation Sans" font-size="7.5" font-weight="bold" text-anchor="end" fill="#1e1e1e" >1.5</text>
<line x1="301.00" y1="673.40" x2="301.00" y2="675.90" stroke="#4a4a4a" stroke-width="0.9900000000000001" />
<line x1="369.00" y1="673.40" x2="369.00" y2="675.90" stroke="#4a4a4a" stroke-width="0.9900000000000001" />
<text transform="translate(237.80,623.60) rotate(-90)" font-family="Liberation Serif" font-size="8.9" font-weight="bold" text-anchor="middle" fill="#1a1a1a" stroke="#1a1a1a" stroke-width="0.15" textLength="103.5" lengthAdjust="spacingAndGlyphs">Relative Luciferase activity</text>
<text transform="translate(249.70,626.40) rotate(-90)" font-family="Liberation Serif" font-size="8.9" font-weight="bold" text-anchor="middle" fill="#1a1a1a" stroke="#1a1a1a" stroke-width="0.15" textLength="66.5" lengthAdjust="spacingAndGlyphs">( arbitrary units )</text>
<rect x="303.50" y="582.40" width="10.80" height="5.40" fill="#fff" stroke="#1a1a1a" stroke-width="1.1" />
<text x="318.40" y="588.00" font-family="Liberation Serif" font-size="8.6" font-weight="bold" text-anchor="start" fill="#1a1a1a"  stroke="#1a1a1a" stroke-width="0.18">miR-NC</text>
<rect x="357.70" y="582.40" width="10.20" height="5.40" fill="url(#pv)" stroke="#1a1a1a" stroke-width="1.1" />
<text x="371.90" y="588.00" font-family="Liberation Serif" font-size="8.6" font-weight="bold" text-anchor="start" fill="#1a1a1a"  stroke="#1a1a1a" stroke-width="0.18">miR-429</text>
<text x="299.50" y="684.40" font-family="Liberation Serif" font-size="8.4" font-weight="bold" text-anchor="middle" fill="#1a1a1a"  stroke="#1a1a1a" stroke-width="0.18">Wildtype</text>
<text x="369.00" y="684.40" font-family="Liberation Serif" font-size="8.4" font-weight="bold" text-anchor="middle" fill="#1a1a1a"  stroke="#1a1a1a" stroke-width="0.18">Mutant</text>
<line x1="275.70" y1="687.30" x2="386.90" y2="687.30" stroke="#666" stroke-width="1.1" />
<text transform="translate(332.20,694.30) scale(1,0.92)" font-family="Liberation Serif" font-size="7.0" font-weight="bold" text-anchor="middle" fill="#1a1a1a" stroke="#1a1a1a" stroke-width="0.25" textLength="108" lengthAdjust="spacing">Position 2247-2253 of <tspan font-style="italic">TIF1γ</tspan> 3’ UTR</text>
<rect x="63.00" y="764.00" width="23.50" height="45.90" fill="#ffffff" stroke="#1a1a1a" stroke-width="1.3" />
<line x1="74.75" y1="764.00" x2="74.75" y2="761.71" stroke="#1a1a1a" stroke-width="1.3" />
<line x1="67.94" y1="761.71" x2="81.56" y2="761.71" stroke="#1a1a1a" stroke-width="1.3" />
<rect x="86.50" y="741.51" width="22.80" height="68.39" fill="#42be42" stroke="none" stroke-width="1.0" />
<rect x="86.50" y="741.51" width="22.80" height="68.39" fill="url(#ph)" stroke="#1a1a1a" stroke-width="1.3" />
<line x1="97.90" y1="741.51" x2="97.90" y2="730.95" stroke="#1a1a1a" stroke-width="1.3" />
<line x1="91.29" y1="730.95" x2="104.51" y2="730.95" stroke="#1a1a1a" stroke-width="1.3" />
<rect x="131.80" y="764.00" width="22.70" height="45.90" fill="#ffffff" stroke="#1a1a1a" stroke-width="1.3" />
<line x1="143.15" y1="764.00" x2="143.15" y2="756.66" stroke="#1a1a1a" stroke-width="1.3" />
<line x1="136.57" y1="756.66" x2="149.73" y2="756.66" stroke="#1a1a1a" stroke-width="1.3" />
<rect x="154.50" y="753.44" width="22.90" height="56.46" fill="#42be42" stroke="none" stroke-width="1.0" />
<rect x="154.50" y="753.44" width="22.90" height="56.46" fill="url(#ph)" stroke="#1a1a1a" stroke-width="1.3" />
<line x1="165.95" y1="753.44" x2="165.95" y2="745.64" stroke="#1a1a1a" stroke-width="1.3" />
<line x1="159.31" y1="745.64" x2="172.59" y2="745.64" stroke="#1a1a1a" stroke-width="1.3" />
<line x1="51.50" y1="717.60" x2="51.50" y2="810.40" stroke="#4a4a4a" stroke-width="1.1" />
<line x1="51.00" y1="809.90" x2="189.00" y2="809.90" stroke="#4a4a4a" stroke-width="1.1" />
<line x1="48.90" y1="809.90" x2="51.50" y2="809.90" stroke="#4a4a4a" stroke-width="0.9900000000000001" />
<text transform="translate(48.30,812.60) scale(0.81,1.0)" x="0" y="0" font-family="Liberation Sans" font-size="7.5" font-weight="bold" text-anchor="end" fill="#1e1e1e" >0.0</text>
<line x1="48.90" y1="786.95" x2="51.50" y2="786.95" stroke="#4a4a4a" stroke-width="0.9900000000000001" />
<text transform="translate(48.30,789.65) scale(0.81,1.0)" x="0" y="0" font-family="Liberation Sans" font-size="7.5" font-weight="bold" text-anchor="end" fill="#1e1e1e" >0.5</text>
<line x1="48.90" y1="764.00" x2="51.50" y2="764.00" stroke="#4a4a4a" stroke-width="0.9900000000000001" />
<text transform="translate(48.30,766.70) scale(0.81,1.0)" x="0" y="0" font-family="Liberation Sans" font-size="7.5" font-weight="bold" text-anchor="end" fill="#1e1e1e" >1.0</text>
<line x1="48.90" y1="741.05" x2="51.50" y2="741.05" stroke="#4a4a4a" stroke-width="0.9900000000000001" />
<text transform="translate(48.30,743.75) scale(0.81,1.0)" x="0" y="0" font-family="Liberation Sans" font-size="7.5" font-weight="bold" text-anchor="end" fill="#1e1e1e" >1.5</text>
<line x1="48.90" y1="718.10" x2="51.50" y2="718.10" stroke="#4a4a4a" stroke-width="0.9900000000000001" />
<text transform="translate(48.30,720.80) scale(0.81,1.0)" x="0" y="0" font-family="Liberation Sans" font-size="7.5" font-weight="bold" text-anchor="end" fill="#1e1e1e" >2.0</text>
<line x1="86.50" y1="809.90" x2="86.50" y2="812.40" stroke="#4a4a4a" stroke-width="0.9900000000000001" />
<line x1="154.50" y1="809.90" x2="154.50" y2="812.40" stroke="#4a4a4a" stroke-width="0.9900000000000001" />
<text transform="translate(23.30,760.10) rotate(-90)" font-family="Liberation Serif" font-size="8.9" font-weight="bold" text-anchor="middle" fill="#1a1a1a" stroke="#1a1a1a" stroke-width="0.15" textLength="103.5" lengthAdjust="spacingAndGlyphs">Relative Luciferase activity</text>
<text transform="translate(35.20,762.90) rotate(-90)" font-family="Liberation Serif" font-size="8.9" font-weight="bold" text-anchor="middle" fill="#1a1a1a" stroke="#1a1a1a" stroke-width="0.15" textLength="66.5" lengthAdjust="spacingAndGlyphs">( arbitrary units )</text>
<rect x="89.00" y="718.90" width="10.80" height="5.40" fill="#fff" stroke="#1a1a1a" stroke-width="1.1" />
<text x="103.90" y="724.50" font-family="Liberation Serif" font-size="8.6" font-weight="bold" text-anchor="start" fill="#1a1a1a"  stroke="#1a1a1a" stroke-width="0.18">miR-NC</text>
<rect x="143.20" y="718.90" width="10.20" height="5.40" fill="url(#ph)" stroke="#1a1a1a" stroke-width="1.1" />
<text x="157.40" y="724.50" font-family="Liberation Serif" font-size="8.6" font-weight="bold" text-anchor="start" fill="#1a1a1a"  stroke="#1a1a1a" stroke-width="0.18">miR-429</text>
<text x="85.00" y="820.90" font-family="Liberation Serif" font-size="8.4" font-weight="bold" text-anchor="middle" fill="#1a1a1a"  stroke="#1a1a1a" stroke-width="0.18">Wildtype</text>
<text x="154.50" y="820.90" font-family="Liberation Serif" font-size="8.4" font-weight="bold" text-anchor="middle" fill="#1a1a1a"  stroke="#1a1a1a" stroke-width="0.18">Mutant</text>
<line x1="61.20" y1="824.70" x2="172.40" y2="824.70" stroke="#666" stroke-width="1.1" />
<text transform="translate(117.70,831.60) scale(1,0.92)" font-family="Liberation Serif" font-size="7.0" font-weight="bold" text-anchor="middle" fill="#1a1a1a" stroke="#1a1a1a" stroke-width="0.25" textLength="108" lengthAdjust="spacing">Position 2690-2696 of <tspan font-style="italic">TIF1γ</tspan> 3’ UTR</text>
<rect x="277.50" y="748.70" width="23.50" height="61.20" fill="#ffffff" stroke="#1a1a1a" stroke-width="1.3" />
<line x1="289.25" y1="748.70" x2="289.25" y2="736.46" stroke="#1a1a1a" stroke-width="1.3" />
<line x1="282.44" y1="736.46" x2="296.06" y2="736.46" stroke="#1a1a1a" stroke-width="1.3" />
<rect x="301.00" y="745.03" width="22.80" height="64.87" fill="#42be42" stroke="none" stroke-width="1.0" />
<rect x="301.00" y="745.03" width="22.80" height="64.87" fill="url(#ph)" stroke="#1a1a1a" stroke-width="1.3" />
<line x1="312.40" y1="745.03" x2="312.40" y2="730.95" stroke="#1a1a1a" stroke-width="1.3" />
<line x1="305.79" y1="730.95" x2="319.01" y2="730.95" stroke="#1a1a1a" stroke-width="1.3" />
<rect x="346.30" y="748.70" width="22.70" height="61.20" fill="#ffffff" stroke="#1a1a1a" stroke-width="1.3" />
<line x1="357.65" y1="748.70" x2="357.65" y2="730.34" stroke="#1a1a1a" stroke-width="1.3" />
<line x1="351.07" y1="730.34" x2="364.23" y2="730.34" stroke="#1a1a1a" stroke-width="1.3" />
<rect x="369.00" y="763.39" width="22.90" height="46.51" fill="#42be42" stroke="none" stroke-width="1.0" />
<rect x="369.00" y="763.39" width="22.90" height="46.51" fill="url(#ph)" stroke="#1a1a1a" stroke-width="1.3" />
<line x1="380.45" y1="763.39" x2="380.45" y2="754.21" stroke="#1a1a1a" stroke-width="1.3" />
<line x1="373.81" y1="754.21" x2="387.09" y2="754.21" stroke="#1a1a1a" stroke-width="1.3" />
<line x1="266.00" y1="717.60" x2="266.00" y2="810.40" stroke="#4a4a4a" stroke-width="1.1" />
<line x1="265.50" y1="809.90" x2="403.50" y2="809.90" stroke="#4a4a4a" stroke-width="1.1" />
<line x1="263.40" y1="809.90" x2="266.00" y2="809.90" stroke="#4a4a4a" stroke-width="0.9900000000000001" />
<text transform="translate(262.80,812.60) scale(0.81,1.0)" x="0" y="0" font-family="Liberation Sans" font-size="7.5" font-weight="bold" text-anchor="end" fill="#1e1e1e" >0.0</text>
<line x1="263.40" y1="779.30" x2="266.00" y2="779.30" stroke="#4a4a4a" stroke-width="0.9900000000000001" />
<text transform="translate(262.80,782.00) scale(0.81,1.0)" x="0" y="0" font-family="Liberation Sans" font-size="7.5" font-weight="bold" text-anchor="end" fill="#1e1e1e" >0.5</text>
<line x1="263.40" y1="748.70" x2="266.00" y2="748.70" stroke="#4a4a4a" stroke-width="0.9900000000000001" />
<text transform="translate(262.80,751.40) scale(0.81,1.0)" x="0" y="0" font-family="Liberation Sans" font-size="7.5" font-weight="bold" text-anchor="end" fill="#1e1e1e" >1.0</text>
<line x1="263.40" y1="718.10" x2="266.00" y2="718.10" stroke="#4a4a4a" stroke-width="0.9900000000000001" />
<text transform="translate(262.80,720.80) scale(0.81,1.0)" x="0" y="0" font-family="Liberation Sans" font-size="7.5" font-weight="bold" text-anchor="end" fill="#1e1e1e" >1.5</text>
<line x1="301.00" y1="809.90" x2="301.00" y2="812.40" stroke="#4a4a4a" stroke-width="0.9900000000000001" />
<line x1="369.00" y1="809.90" x2="369.00" y2="812.40" stroke="#4a4a4a" stroke-width="0.9900000000000001" />
<text transform="translate(237.80,760.10) rotate(-90)" font-family="Liberation Serif" font-size="8.9" font-weight="bold" text-anchor="middle" fill="#1a1a1a" stroke="#1a1a1a" stroke-width="0.15" textLength="103.5" lengthAdjust="spacingAndGlyphs">Relative Luciferase activity</text>
<text transform="translate(249.70,762.90) rotate(-90)" font-family="Liberation Serif" font-size="8.9" font-weight="bold" text-anchor="middle" fill="#1a1a1a" stroke="#1a1a1a" stroke-width="0.15" textLength="66.5" lengthAdjust="spacingAndGlyphs">( arbitrary units )</text>
<rect x="303.50" y="718.90" width="10.80" height="5.40" fill="#fff" stroke="#1a1a1a" stroke-width="1.1" />
<text x="318.40" y="724.50" font-family="Liberation Serif" font-size="8.6" font-weight="bold" text-anchor="start" fill="#1a1a1a"  stroke="#1a1a1a" stroke-width="0.18">miR-NC</text>
<rect x="357.70" y="718.90" width="10.20" height="5.40" fill="url(#ph)" stroke="#1a1a1a" stroke-width="1.1" />
<text x="371.90" y="724.50" font-family="Liberation Serif" font-size="8.6" font-weight="bold" text-anchor="start" fill="#1a1a1a"  stroke="#1a1a1a" stroke-width="0.18">miR-429</text>
<text x="299.50" y="820.90" font-family="Liberation Serif" font-size="8.4" font-weight="bold" text-anchor="middle" fill="#1a1a1a"  stroke="#1a1a1a" stroke-width="0.18">Wildtype</text>
<text x="369.00" y="820.90" font-family="Liberation Serif" font-size="8.4" font-weight="bold" text-anchor="middle" fill="#1a1a1a"  stroke="#1a1a1a" stroke-width="0.18">Mutant</text>
<line x1="275.70" y1="824.70" x2="386.90" y2="824.70" stroke="#666" stroke-width="1.1" />
<text transform="translate(332.20,831.60) scale(1,0.92)" font-family="Liberation Serif" font-size="7.0" font-weight="bold" text-anchor="middle" fill="#1a1a1a" stroke="#1a1a1a" stroke-width="0.25" textLength="108" lengthAdjust="spacing">Position 2690-2696 of <tspan font-style="italic">TIF1γ</tspan> 3’ UTR</text>
<rect x="63.00" y="886.23" width="23.50" height="60.87" fill="#ffffff" stroke="#1a1a1a" stroke-width="1.3" />
<line x1="74.75" y1="886.23" x2="74.75" y2="884.41" stroke="#1a1a1a" stroke-width="1.3" />
<line x1="67.94" y1="884.41" x2="81.56" y2="884.41" stroke="#1a1a1a" stroke-width="1.3" />
<rect x="86.50" y="891.41" width="22.80" height="55.69" fill="#42be42" stroke="none" stroke-width="1.0" />
<rect x="86.50" y="891.41" width="22.80" height="55.69" fill="url(#pd)" stroke="#1a1a1a" stroke-width="1.3" />
<line x1="97.90" y1="891.41" x2="97.90" y2="884.41" stroke="#1a1a1a" stroke-width="1.3" />
<line x1="91.29" y1="884.41" x2="104.51" y2="884.41" stroke="#1a1a1a" stroke-width="1.3" />
<rect x="131.80" y="886.23" width="22.70" height="60.87" fill="#ffffff" stroke="#1a1a1a" stroke-width="1.3" />
<line x1="143.15" y1="886.23" x2="143.15" y2="876.49" stroke="#1a1a1a" stroke-width="1.3" />
<line x1="136.57" y1="876.49" x2="149.73" y2="876.49" stroke="#1a1a1a" stroke-width="1.3" />
<rect x="154.50" y="900.84" width="22.90" height="46.26" fill="#42be42" stroke="none" stroke-width="1.0" />
<rect x="154.50" y="900.84" width="22.90" height="46.26" fill="url(#pd)" stroke="#1a1a1a" stroke-width="1.3" />
<line x1="165.95" y1="900.84" x2="165.95" y2="894.75" stroke="#1a1a1a" stroke-width="1.3" />
<line x1="159.31" y1="894.75" x2="172.59" y2="894.75" stroke="#1a1a1a" stroke-width="1.3" />
<line x1="51.50" y1="855.30" x2="51.50" y2="947.60" stroke="#4a4a4a" stroke-width="1.1" />
<line x1="51.00" y1="947.10" x2="189.00" y2="947.10" stroke="#4a4a4a" stroke-width="1.1" />
<line x1="48.90" y1="947.10" x2="51.50" y2="947.10" stroke="#4a4a4a" stroke-width="0.9900000000000001" />
<text transform="translate(48.30,949.80) scale(0.81,1.0)" x="0" y="0" font-family="Liberation Sans" font-size="7.5" font-weight="bold" text-anchor="end" fill="#1e1e1e" >0.0</text>
<line x1="48.90" y1="916.67" x2="51.50" y2="916.67" stroke="#4a4a4a" stroke-width="0.9900000000000001" />
<text transform="translate(48.30,919.37) scale(0.81,1.0)" x="0" y="0" font-family="Liberation Sans" font-size="7.5" font-weight="bold" text-anchor="end" fill="#1e1e1e" >0.5</text>
<line x1="48.90" y1="886.23" x2="51.50" y2="886.23" stroke="#4a4a4a" stroke-width="0.9900000000000001" />
<text transform="translate(48.30,888.93) scale(0.81,1.0)" x="0" y="0" font-family="Liberation Sans" font-size="7.5" font-weight="bold" text-anchor="end" fill="#1e1e1e" >1.0</text>
<line x1="48.90" y1="855.80" x2="51.50" y2="855.80" stroke="#4a4a4a" stroke-width="0.9900000000000001" />
<text transform="translate(48.30,858.50) scale(0.81,1.0)" x="0" y="0" font-family="Liberation Sans" font-size="7.5" font-weight="bold" text-anchor="end" fill="#1e1e1e" >1.5</text>
<line x1="86.50" y1="947.10" x2="86.50" y2="949.60" stroke="#4a4a4a" stroke-width="0.9900000000000001" />
<line x1="154.50" y1="947.10" x2="154.50" y2="949.60" stroke="#4a4a4a" stroke-width="0.9900000000000001" />
<text transform="translate(23.30,897.30) rotate(-90)" font-family="Liberation Serif" font-size="8.9" font-weight="bold" text-anchor="middle" fill="#1a1a1a" stroke="#1a1a1a" stroke-width="0.15" textLength="103.5" lengthAdjust="spacingAndGlyphs">Relative Luciferase activity</text>
<text transform="translate(35.20,900.10) rotate(-90)" font-family="Liberation Serif" font-size="8.9" font-weight="bold" text-anchor="middle" fill="#1a1a1a" stroke="#1a1a1a" stroke-width="0.15" textLength="66.5" lengthAdjust="spacingAndGlyphs">( arbitrary units )</text>
<rect x="89.00" y="856.60" width="10.80" height="5.40" fill="#fff" stroke="#1a1a1a" stroke-width="1.1" />
<text x="103.90" y="862.20" font-family="Liberation Serif" font-size="8.6" font-weight="bold" text-anchor="start" fill="#1a1a1a"  stroke="#1a1a1a" stroke-width="0.18">miR-NC</text>
<rect x="143.20" y="856.60" width="10.20" height="5.40" fill="url(#pd)" stroke="#1a1a1a" stroke-width="1.1" />
<text x="157.40" y="862.20" font-family="Liberation Serif" font-size="8.6" font-weight="bold" text-anchor="start" fill="#1a1a1a"  stroke="#1a1a1a" stroke-width="0.18">miR-429</text>
<text x="85.00" y="958.10" font-family="Liberation Serif" font-size="8.4" font-weight="bold" text-anchor="middle" fill="#1a1a1a"  stroke="#1a1a1a" stroke-width="0.18">Wildtype</text>
<text x="154.50" y="958.10" font-family="Liberation Serif" font-size="8.4" font-weight="bold" text-anchor="middle" fill="#1a1a1a"  stroke="#1a1a1a" stroke-width="0.18">Mutant</text>
<line x1="61.20" y1="962.40" x2="172.40" y2="962.40" stroke="#666" stroke-width="1.1" />
<text transform="translate(117.70,969.70) scale(1,0.92)" font-family="Liberation Serif" font-size="7.0" font-weight="bold" text-anchor="middle" fill="#1a1a1a" stroke="#1a1a1a" stroke-width="0.25" textLength="108" lengthAdjust="spacing">Position 4486-4492 of <tspan font-style="italic">TIF1γ</tspan> 3’ UTR</text>
<rect x="277.50" y="886.23" width="23.50" height="60.87" fill="#ffffff" stroke="#1a1a1a" stroke-width="1.3" />
<line x1="289.25" y1="886.23" x2="289.25" y2="877.71" stroke="#1a1a1a" stroke-width="1.3" />
<line x1="282.44" y1="877.71" x2="296.06" y2="877.71" stroke="#1a1a1a" stroke-width="1.3" />
<rect x="301.00" y="901.45" width="22.80" height="45.65" fill="#42be42" stroke="none" stroke-width="1.0" />
<rect x="301.00" y="901.45" width="22.80" height="45.65" fill="url(#pd)" stroke="#1a1a1a" stroke-width="1.3" />
<line x1="312.40" y1="901.45" x2="312.40" y2="895.36" stroke="#1a1a1a" stroke-width="1.3" />
<line x1="305.79" y1="895.36" x2="319.01" y2="895.36" stroke="#1a1a1a" stroke-width="1.3" />
<rect x="346.30" y="886.23" width="22.70" height="60.87" fill="#ffffff" stroke="#1a1a1a" stroke-width="1.3" />
<line x1="357.65" y1="886.23" x2="357.65" y2="879.54" stroke="#1a1a1a" stroke-width="1.3" />
<line x1="351.07" y1="879.54" x2="364.23" y2="879.54" stroke="#1a1a1a" stroke-width="1.3" />
<rect x="369.00" y="893.54" width="22.90" height="53.56" fill="#42be42" stroke="none" stroke-width="1.0" />
<rect x="369.00" y="893.54" width="22.90" height="53.56" fill="url(#pd)" stroke="#1a1a1a" stroke-width="1.3" />
<line x1="380.45" y1="893.54" x2="380.45" y2="889.89" stroke="#1a1a1a" stroke-width="1.3" />
<line x1="373.81" y1="889.89" x2="387.09" y2="889.89" stroke="#1a1a1a" stroke-width="1.3" />
<line x1="266.00" y1="855.30" x2="266.00" y2="947.60" stroke="#4a4a4a" stroke-width="1.1" />
<line x1="265.50" y1="947.10" x2="403.50" y2="947.10" stroke="#4a4a4a" stroke-width="1.1" />
<line x1="263.40" y1="947.10" x2="266.00" y2="947.10" stroke="#4a4a4a" stroke-width="0.9900000000000001" />
<text transform="translate(262.80,949.80) scale(0.81,1.0)" x="0" y="0" font-family="Liberation Sans" font-size="7.5" font-weight="bold" text-anchor="end" fill="#1e1e1e" >0.0</text>
<line x1="263.40" y1="916.67" x2="266.00" y2="916.67" stroke="#4a4a4a" stroke-width="0.9900000000000001" />
<text transform="translate(262.80,919.37) scale(0.81,1.0)" x="0" y="0" font-family="Liberation Sans" font-size="7.5" font-weight="bold" text-anchor="end" fill="#1e1e1e" >0.5</text>
<line x1="263.40" y1="886.23" x2="266.00" y2="886.23" stroke="#4a4a4a" stroke-width="0.9900000000000001" />
<text transform="translate(262.80,888.93) scale(0.81,1.0)" x="0" y="0" font-family="Liberation Sans" font-size="7.5" font-weight="bold" text-anchor="end" fill="#1e1e1e" >1.0</text>
<line x1="263.40" y1="855.80" x2="266.00" y2="855.80" stroke="#4a4a4a" stroke-width="0.9900000000000001" />
<text transform="translate(262.80,858.50) scale(0.81,1.0)" x="0" y="0" font-family="Liberation Sans" font-size="7.5" font-weight="bold" text-anchor="end" fill="#1e1e1e" >1.5</text>
<line x1="301.00" y1="947.10" x2="301.00" y2="949.60" stroke="#4a4a4a" stroke-width="0.9900000000000001" />
<line x1="369.00" y1="947.10" x2="369.00" y2="949.60" stroke="#4a4a4a" stroke-width="0.9900000000000001" />
<text transform="translate(237.80,897.30) rotate(-90)" font-family="Liberation Serif" font-size="8.9" font-weight="bold" text-anchor="middle" fill="#1a1a1a" stroke="#1a1a1a" stroke-width="0.15" textLength="103.5" lengthAdjust="spacingAndGlyphs">Relative Luciferase activity</text>
<text transform="translate(249.70,900.10) rotate(-90)" font-family="Liberation Serif" font-size="8.9" font-weight="bold" text-anchor="middle" fill="#1a1a1a" stroke="#1a1a1a" stroke-width="0.15" textLength="66.5" lengthAdjust="spacingAndGlyphs">( arbitrary units )</text>
<rect x="303.50" y="856.60" width="10.80" height="5.40" fill="#fff" stroke="#1a1a1a" stroke-width="1.1" />
<text x="318.40" y="862.20" font-family="Liberation Serif" font-size="8.6" font-weight="bold" text-anchor="start" fill="#1a1a1a"  stroke="#1a1a1a" stroke-width="0.18">miR-NC</text>
<rect x="357.70" y="856.60" width="10.20" height="5.40" fill="url(#pd)" stroke="#1a1a1a" stroke-width="1.1" />
<text x="371.90" y="862.20" font-family="Liberation Serif" font-size="8.6" font-weight="bold" text-anchor="start" fill="#1a1a1a"  stroke="#1a1a1a" stroke-width="0.18">miR-429</text>
<text x="299.50" y="958.10" font-family="Liberation Serif" font-size="8.4" font-weight="bold" text-anchor="middle" fill="#1a1a1a"  stroke="#1a1a1a" stroke-width="0.18">Wildtype</text>
<text x="369.00" y="958.10" font-family="Liberation Serif" font-size="8.4" font-weight="bold" text-anchor="middle" fill="#1a1a1a"  stroke="#1a1a1a" stroke-width="0.18">Mutant</text>
<line x1="275.70" y1="962.40" x2="386.90" y2="962.40" stroke="#666" stroke-width="1.1" />
<text transform="translate(332.20,969.70) scale(1,0.92)" font-family="Liberation Serif" font-size="7.0" font-weight="bold" text-anchor="middle" fill="#1a1a1a" stroke="#1a1a1a" stroke-width="0.25" textLength="108" lengthAdjust="spacing">Position 4486-4492 of <tspan font-style="italic">TIF1γ</tspan> 3’ UTR</text>
<path d="M97.70,490.80 L97.70,487.90 M97.70,490.80 L100.46,489.90 M97.70,490.80 L99.40,493.15 M97.70,490.80 L96.00,493.15 M97.70,490.80 L94.94,489.90 " stroke="#1a1a1a" stroke-width="1.15" stroke-linecap="round" fill="none"/>
<path d="M311.90,487.10 L311.90,484.20 M311.90,487.10 L314.66,486.20 M311.90,487.10 L313.60,489.45 M311.90,487.10 L310.20,489.45 M311.90,487.10 L309.14,486.20 " stroke="#1a1a1a" stroke-width="1.15" stroke-linecap="round" fill="none"/>
<text x="446.00" y="15.16" font-family="Liberation Sans" font-size="19.5" font-weight="bold" text-anchor="start" fill="#1a1a1a" stroke="#000" stroke-width="0.4">C</text>
<text transform="translate(549.60,23.60) scale(1.0,1.14)" x="0" y="0" font-family="Liberation Serif" font-size="11.2" font-weight="bold" text-anchor="middle" fill="#1a1a1a"  stroke="#1a1a1a" stroke-width="0.35">A549</text>
<text transform="translate(716.90,23.60) scale(1.0,1.14)" x="0" y="0" font-family="Liberation Serif" font-size="11.2" font-weight="bold" text-anchor="middle" fill="#1a1a1a"  stroke="#1a1a1a" stroke-width="0.35">H226</text>
<rect x="503.80" y="123.63" width="38.20" height="14.77" fill="#fff" stroke="#1a1a1a" stroke-width="1.2" />
<line x1="522.90" y1="123.63" x2="522.90" y2="123.10" stroke="#1a1a1a" stroke-width="1.1" />
<line x1="511.82" y1="123.10" x2="533.98" y2="123.10" stroke="#1a1a1a" stroke-width="1.1" />
<rect x="560.80" y="44.44" width="37.80" height="93.96" fill="#42be42" stroke="#1a1a1a" stroke-width="1.2" />
<rect x="560.00" y="81.80" width="39.40" height="3.20" fill="#fff" stroke="none" stroke-width="1.0" />
<line x1="559.00" y1="83.50" x2="562.60" y2="80.70" stroke="#1a1a1a" stroke-width="0.9" />
<line x1="559.00" y1="86.10" x2="562.60" y2="83.30" stroke="#1a1a1a" stroke-width="0.9" />
<line x1="596.80" y1="83.50" x2="600.40" y2="80.70" stroke="#1a1a1a" stroke-width="0.9" />
<line x1="596.80" y1="86.10" x2="600.40" y2="83.30" stroke="#1a1a1a" stroke-width="0.9" />
<line x1="495.00" y1="29.20" x2="495.00" y2="138.90" stroke="#333" stroke-width="1.0" />
<line x1="494.50" y1="138.40" x2="607.00" y2="138.40" stroke="#333" stroke-width="1.0" />
<rect x="494.00" y="82.00" width="2.00" height="2.80" fill="#fff" stroke="none" stroke-width="1.0" />
<line x1="493.20" y1="83.50" x2="496.80" y2="80.70" stroke="#1a1a1a" stroke-width="0.8" />
<line x1="493.20" y1="86.10" x2="496.80" y2="83.30" stroke="#1a1a1a" stroke-width="0.8" />
<line x1="492.80" y1="138.40" x2="495.00" y2="138.40" stroke="#333" stroke-width="0.9" />
<text x="492.20" y="140.27" font-family="Liberation Sans" font-size="5.2" font-weight="bold" text-anchor="end" fill="#222" >0.00000</text>
<line x1="492.80" y1="127.66" x2="495.00" y2="127.66" stroke="#333" stroke-width="0.9" />
<text x="492.20" y="129.53" font-family="Liberation Sans" font-size="5.2" font-weight="bold" text-anchor="end" fill="#222" >0.00002</text>
<line x1="492.80" y1="116.92" x2="495.00" y2="116.92" stroke="#333" stroke-width="0.9" />
<text x="492.20" y="118.79" font-family="Liberation Sans" font-size="5.2" font-weight="bold" text-anchor="end" fill="#222" >0.00004</text>
<line x1="492.80" y1="106.18" x2="495.00" y2="106.18" stroke="#333" stroke-width="0.9" />
<text x="492.20" y="108.05" font-family="Liberation Sans" font-size="5.2" font-weight="bold" text-anchor="end" fill="#222" >0.00006</text>
<line x1="492.80" y1="95.44" x2="495.00" y2="95.44" stroke="#333" stroke-width="0.9" />
<text x="492.20" y="97.31" font-family="Liberation Sans" font-size="5.2" font-weight="bold" text-anchor="end" fill="#222" >0.00008</text>
<line x1="492.80" y1="84.70" x2="495.00" y2="84.70" stroke="#333" stroke-width="0.9" />
<text x="492.20" y="86.57" font-family="Liberation Sans" font-size="5.2" font-weight="bold" text-anchor="end" fill="#222" >0.00010</text>
<line x1="492.80" y1="69.90" x2="495.00" y2="69.90" stroke="#333" stroke-width="0.9" />
<text x="492.20" y="71.77" font-family="Liberation Sans" font-size="5.2" font-weight="bold" text-anchor="end" fill="#222" >0.2</text>
<line x1="492.80" y1="56.50" x2="495.00" y2="56.50" stroke="#333" stroke-width="0.9" />
<text x="492.20" y="58.37" font-family="Liberation Sans" font-size="5.2" font-weight="bold" text-anchor="end" fill="#222" >0.4</text>
<line x1="492.80" y1="43.10" x2="495.00" y2="43.10" stroke="#333" stroke-width="0.9" />
<text x="492.20" y="44.97" font-family="Liberation Sans" font-size="5.2" font-weight="bold" text-anchor="end" fill="#222" >0.6</text>
<line x1="492.80" y1="29.70" x2="495.00" y2="29.70" stroke="#333" stroke-width="0.9" />
<text x="492.20" y="31.57" font-family="Liberation Sans" font-size="5.2" font-weight="bold" text-anchor="end" fill="#222" >0.8</text>
<line x1="523.00" y1="138.40" x2="523.00" y2="140.60" stroke="#333" stroke-width="0.9" />
<line x1="579.70" y1="138.40" x2="579.70" y2="140.60" stroke="#333" stroke-width="0.9" />
<text transform="translate(467.20,84.10) rotate(-90)" font-family="Liberation Serif" font-size="8.8" font-weight="bold" text-anchor="middle" fill="#1a1a1a" textLength="88.6" lengthAdjust="spacingAndGlyphs">Relative miR-429 levels</text>
<path d="M572.70,36.30 L572.70,33.40 M572.70,36.30 L575.46,35.40 M572.70,36.30 L574.40,38.65 M572.70,36.30 L571.00,38.65 M572.70,36.30 L569.94,35.40 " stroke="#1a1a1a" stroke-width="1.15" stroke-linecap="round" fill="none"/>
<path d="M578.80,36.30 L578.80,33.40 M578.80,36.30 L581.56,35.40 M578.80,36.30 L580.50,38.65 M578.80,36.30 L577.10,38.65 M578.80,36.30 L576.04,35.40 " stroke="#1a1a1a" stroke-width="1.15" stroke-linecap="round" fill="none"/>
<path d="M584.90,36.30 L584.90,33.40 M584.90,36.30 L587.66,35.40 M584.90,36.30 L586.60,38.65 M584.90,36.30 L583.20,38.65 M584.90,36.30 L582.14,35.40 " stroke="#1a1a1a" stroke-width="1.15" stroke-linecap="round" fill="none"/>
<text x="523.00" y="150.30" font-family="Liberation Serif" font-size="8.6" font-weight="bold" text-anchor="middle" fill="#1a1a1a"  stroke="#1a1a1a" stroke-width="0.18">miR-NC</text>
<text x="579.70" y="150.30" font-family="Liberation Serif" font-size="8.6" font-weight="bold" text-anchor="middle" fill="#1a1a1a"  stroke="#1a1a1a" stroke-width="0.18">miR-429</text>
<rect x="671.40" y="134.18" width="38.00" height="4.32" fill="#fff" stroke="#1a1a1a" stroke-width="1.2" />
<rect x="728.50" y="37.99" width="38.40" height="100.51" fill="#42be42" stroke="#1a1a1a" stroke-width="1.2" />
<line x1="747.70" y1="37.99" x2="747.70" y2="35.97" stroke="#1a1a1a" stroke-width="1.1" />
<line x1="736.56" y1="35.97" x2="758.84" y2="35.97" stroke="#1a1a1a" stroke-width="1.1" />
<rect x="727.70" y="81.90" width="40.00" height="3.20" fill="#fff" stroke="none" stroke-width="1.0" />
<line x1="726.70" y1="83.60" x2="730.30" y2="80.80" stroke="#1a1a1a" stroke-width="0.9" />
<line x1="726.70" y1="86.20" x2="730.30" y2="83.40" stroke="#1a1a1a" stroke-width="0.9" />
<line x1="765.10" y1="83.60" x2="768.70" y2="80.80" stroke="#1a1a1a" stroke-width="0.9" />
<line x1="765.10" y1="86.20" x2="768.70" y2="83.40" stroke="#1a1a1a" stroke-width="0.9" />
<line x1="661.80" y1="29.00" x2="661.80" y2="139.00" stroke="#333" stroke-width="1.0" />
<line x1="661.30" y1="138.50" x2="777.50" y2="138.50" stroke="#333" stroke-width="1.0" />
<rect x="660.80" y="82.10" width="2.00" height="2.80" fill="#fff" stroke="none" stroke-width="1.0" />
<line x1="660.00" y1="83.60" x2="663.60" y2="80.80" stroke="#1a1a1a" stroke-width="0.8" />
<line x1="660.00" y1="86.20" x2="663.60" y2="83.40" stroke="#1a1a1a" stroke-width="0.8" />
<line x1="659.60" y1="138.50" x2="661.80" y2="138.50" stroke="#333" stroke-width="0.9" />
<text x="659.00" y="140.37" font-family="Liberation Sans" font-size="5.2" font-weight="bold" text-anchor="end" fill="#222" >0.000000</text>
<line x1="659.60" y1="127.70" x2="661.80" y2="127.70" stroke="#333" stroke-width="0.9" />
<text x="659.00" y="129.57" font-family="Liberation Sans" font-size="5.2" font-weight="bold" text-anchor="end" fill="#222" >0.000002</text>
<line x1="659.60" y1="116.90" x2="661.80" y2="116.90" stroke="#333" stroke-width="0.9" />
<text x="659.00" y="118.77" font-family="Liberation Sans" font-size="5.2" font-weight="bold" text-anchor="end" fill="#222" >0.000004</text>
<line x1="659.60" y1="106.10" x2="661.80" y2="106.10" stroke="#333" stroke-width="0.9" />
<text x="659.00" y="107.97" font-family="Liberation Sans" font-size="5.2" font-weight="bold" text-anchor="end" fill="#222" >0.000006</text>
<line x1="659.60" y1="95.30" x2="661.80" y2="95.30" stroke="#333" stroke-width="0.9" />
<text x="659.00" y="97.17" font-family="Liberation Sans" font-size="5.2" font-weight="bold" text-anchor="end" fill="#222" >0.000008</text>
<line x1="659.60" y1="84.50" x2="661.80" y2="84.50" stroke="#333" stroke-width="0.9" />
<text x="659.00" y="86.37" font-family="Liberation Sans" font-size="5.2" font-weight="bold" text-anchor="end" fill="#222" >0.000010</text>
<line x1="659.60" y1="69.92" x2="661.80" y2="69.92" stroke="#333" stroke-width="0.9" />
<text x="659.00" y="71.80" font-family="Liberation Sans" font-size="5.2" font-weight="bold" text-anchor="end" fill="#222" >0.01</text>
<line x1="659.60" y1="56.45" x2="661.80" y2="56.45" stroke="#333" stroke-width="0.9" />
<text x="659.00" y="58.32" font-family="Liberation Sans" font-size="5.2" font-weight="bold" text-anchor="end" fill="#222" >0.02</text>
<line x1="659.60" y1="42.98" x2="661.80" y2="42.98" stroke="#333" stroke-width="0.9" />
<text x="659.00" y="44.85" font-family="Liberation Sans" font-size="5.2" font-weight="bold" text-anchor="end" fill="#222" >0.03</text>
<line x1="659.60" y1="29.50" x2="661.80" y2="29.50" stroke="#333" stroke-width="0.9" />
<text x="659.00" y="31.37" font-family="Liberation Sans" font-size="5.2" font-weight="bold" text-anchor="end" fill="#222" >0.04</text>
<line x1="690.40" y1="138.50" x2="690.40" y2="140.70" stroke="#333" stroke-width="0.9" />
<line x1="747.70" y1="138.50" x2="747.70" y2="140.70" stroke="#333" stroke-width="0.9" />
<text transform="translate(631.10,84.10) rotate(-90)" font-family="Liberation Serif" font-size="8.8" font-weight="bold" text-anchor="middle" fill="#1a1a1a" textLength="88.7" lengthAdjust="spacingAndGlyphs">Relative miR-429 levels</text>
<path d="M741.60,29.70 L741.60,26.80 M741.60,29.70 L744.36,28.80 M741.60,29.70 L743.30,32.05 M741.60,29.70 L739.90,32.05 M741.60,29.70 L738.84,28.80 " stroke="#1a1a1a" stroke-width="1.15" stroke-linecap="round" fill="none"/>
<path d="M747.70,29.70 L747.70,26.80 M747.70,29.70 L750.46,28.80 M747.70,29.70 L749.40,32.05 M747.70,29.70 L746.00,32.05 M747.70,29.70 L744.94,28.80 " stroke="#1a1a1a" stroke-width="1.15" stroke-linecap="round" fill="none"/>
<path d="M753.80,29.70 L753.80,26.80 M753.80,29.70 L756.56,28.80 M753.80,29.70 L755.50,32.05 M753.80,29.70 L752.10,32.05 M753.80,29.70 L751.04,28.80 " stroke="#1a1a1a" stroke-width="1.15" stroke-linecap="round" fill="none"/>
<text x="690.40" y="150.30" font-family="Liberation Serif" font-size="8.6" font-weight="bold" text-anchor="middle" fill="#1a1a1a"  stroke="#1a1a1a" stroke-width="0.18">miR-NC</text>
<text x="747.70" y="150.30" font-family="Liberation Serif" font-size="8.6" font-weight="bold" text-anchor="middle" fill="#1a1a1a"  stroke="#1a1a1a" stroke-width="0.18">miR-429</text>
<text x="446.60" y="186.16" font-family="Liberation Sans" font-size="19.5" font-weight="bold" text-anchor="start" fill="#1a1a1a" stroke="#000" stroke-width="0.4">D</text>
<text transform="translate(549.60,200.20) scale(1.0,1.14)" x="0" y="0" font-family="Liberation Serif" font-size="11.2" font-weight="bold" text-anchor="middle" fill="#1a1a1a"  stroke="#1a1a1a" stroke-width="0.35">A549</text>
<text transform="translate(717.40,200.20) scale(1.0,1.14)" x="0" y="0" font-family="Liberation Serif" font-size="11.2" font-weight="bold" text-anchor="middle" fill="#1a1a1a"  stroke="#1a1a1a" stroke-width="0.35">H226</text>
<rect x="502.80" y="227.16" width="38.70" height="81.84" fill="#fff" stroke="#1a1a1a" stroke-width="1.3" />
<line x1="522.15" y1="227.16" x2="522.15" y2="226.17" stroke="#1a1a1a" stroke-width="1.3" />
<line x1="510.93" y1="226.17" x2="533.37" y2="226.17" stroke="#1a1a1a" stroke-width="1.3" />
<rect x="559.50" y="254.44" width="38.50" height="54.56" fill="#0a3cf0" stroke="#1a1a1a" stroke-width="1.3" />
<line x1="578.75" y1="254.44" x2="578.75" y2="252.45" stroke="#1a1a1a" stroke-width="1.3" />
<line x1="567.59" y1="252.45" x2="589.91" y2="252.45" stroke="#1a1a1a" stroke-width="1.3" />
<line x1="493.40" y1="208.70" x2="493.40" y2="309.50" stroke="#4a4a4a" stroke-width="1.1" />
<line x1="492.90" y1="309.00" x2="607.00" y2="309.00" stroke="#4a4a4a" stroke-width="1.1" />
<line x1="491.20" y1="309.00" x2="493.40" y2="309.00" stroke="#4a4a4a" stroke-width="0.9900000000000001" />
<text transform="translate(490.80,311.45) scale(0.78,1.0)" x="0" y="0" font-family="Liberation Sans" font-size="6.8" font-weight="bold" text-anchor="end" fill="#1e1e1e" >0.000</text>
<line x1="491.20" y1="275.73" x2="493.40" y2="275.73" stroke="#4a4a4a" stroke-width="0.9900000000000001" />
<text transform="translate(490.80,278.18) scale(0.78,1.0)" x="0" y="0" font-family="Liberation Sans" font-size="6.8" font-weight="bold" text-anchor="end" fill="#1e1e1e" >0.005</text>
<line x1="491.20" y1="242.47" x2="493.40" y2="242.47" stroke="#4a4a4a" stroke-width="0.9900000000000001" />
<text transform="translate(490.80,244.91) scale(0.78,1.0)" x="0" y="0" font-family="Liberation Sans" font-size="6.8" font-weight="bold" text-anchor="end" fill="#1e1e1e" >0.010</text>
<line x1="491.20" y1="209.20" x2="493.40" y2="209.20" stroke="#4a4a4a" stroke-width="0.9900000000000001" />
<text transform="translate(490.80,211.65) scale(0.78,1.0)" x="0" y="0" font-family="Liberation Sans" font-size="6.8" font-weight="bold" text-anchor="end" fill="#1e1e1e" >0.015</text>
<line x1="522.10" y1="309.00" x2="522.10" y2="311.50" stroke="#4a4a4a" stroke-width="0.9900000000000001" />
<line x1="578.70" y1="309.00" x2="578.70" y2="311.50" stroke="#4a4a4a" stroke-width="0.9900000000000001" />
<text transform="translate(469.70,258.20) rotate(-90)" font-family="Liberation Serif" font-size="9.0" font-weight="bold" text-anchor="middle" fill="#1a1a1a" stroke="#1a1a1a" stroke-width="0.15" textLength="108.3" lengthAdjust="spacingAndGlyphs">Relative TIF1<tspan font-style="italic">γ</tspan> mRNA levels</text>
<path d="M572.40,245.30 L572.40,242.40 M572.40,245.30 L575.16,244.40 M572.40,245.30 L574.10,247.65 M572.40,245.30 L570.70,247.65 M572.40,245.30 L569.64,244.40 " stroke="#1a1a1a" stroke-width="1.15" stroke-linecap="round" fill="none"/>
<path d="M578.50,245.30 L578.50,242.40 M578.50,245.30 L581.26,244.40 M578.50,245.30 L580.20,247.65 M578.50,245.30 L576.80,247.65 M578.50,245.30 L575.74,244.40 " stroke="#1a1a1a" stroke-width="1.15" stroke-linecap="round" fill="none"/>
<path d="M584.60,245.30 L584.60,242.40 M584.60,245.30 L587.36,244.40 M584.60,245.30 L586.30,247.65 M584.60,245.30 L582.90,247.65 M584.60,245.30 L581.84,244.40 " stroke="#1a1a1a" stroke-width="1.15" stroke-linecap="round" fill="none"/>
<text x="522.10" y="320.80" font-family="Liberation Serif" font-size="8.6" font-weight="bold" text-anchor="middle" fill="#1a1a1a"  stroke="#1a1a1a" stroke-width="0.18">miR-NC</text>
<text x="578.70" y="320.80" font-family="Liberation Serif" font-size="8.6" font-weight="bold" text-anchor="middle" fill="#1a1a1a"  stroke="#1a1a1a" stroke-width="0.18">miR-429</text>
<rect x="670.50" y="231.23" width="38.60" height="77.77" fill="#fff" stroke="#1a1a1a" stroke-width="1.3" />
<line x1="689.80" y1="231.23" x2="689.80" y2="229.24" stroke="#1a1a1a" stroke-width="1.3" />
<line x1="678.61" y1="229.24" x2="700.99" y2="229.24" stroke="#1a1a1a" stroke-width="1.3" />
<rect x="728.20" y="252.50" width="38.70" height="56.50" fill="#0a3cf0" stroke="#1a1a1a" stroke-width="1.3" />
<line x1="747.55" y1="252.50" x2="747.55" y2="251.17" stroke="#1a1a1a" stroke-width="1.3" />
<line x1="736.33" y1="251.17" x2="758.77" y2="251.17" stroke="#1a1a1a" stroke-width="1.3" />
<line x1="661.10" y1="208.80" x2="661.10" y2="309.50" stroke="#4a4a4a" stroke-width="1.1" />
<line x1="660.60" y1="309.00" x2="777.50" y2="309.00" stroke="#4a4a4a" stroke-width="1.1" />
<line x1="658.90" y1="309.00" x2="661.10" y2="309.00" stroke="#4a4a4a" stroke-width="0.9900000000000001" />
<text transform="translate(658.50,311.45) scale(0.78,1.0)" x="0" y="0" font-family="Liberation Sans" font-size="6.8" font-weight="bold" text-anchor="end" fill="#1e1e1e" >0.000</text>
<line x1="658.90" y1="275.77" x2="661.10" y2="275.77" stroke="#4a4a4a" stroke-width="0.9900000000000001" />
<text transform="translate(658.50,278.21) scale(0.78,1.0)" x="0" y="0" font-family="Liberation Sans" font-size="6.8" font-weight="bold" text-anchor="end" fill="#1e1e1e" >0.005</text>
<line x1="658.90" y1="242.53" x2="661.10" y2="242.53" stroke="#4a4a4a" stroke-width="0.9900000000000001" />
<text transform="translate(658.50,244.98) scale(0.78,1.0)" x="0" y="0" font-family="Liberation Sans" font-size="6.8" font-weight="bold" text-anchor="end" fill="#1e1e1e" >0.010</text>
<line x1="658.90" y1="209.30" x2="661.10" y2="209.30" stroke="#4a4a4a" stroke-width="0.9900000000000001" />
<text transform="translate(658.50,211.75) scale(0.78,1.0)" x="0" y="0" font-family="Liberation Sans" font-size="6.8" font-weight="bold" text-anchor="end" fill="#1e1e1e" >0.015</text>
<line x1="689.80" y1="309.00" x2="689.80" y2="311.50" stroke="#4a4a4a" stroke-width="0.9900000000000001" />
<line x1="747.50" y1="309.00" x2="747.50" y2="311.50" stroke="#4a4a4a" stroke-width="0.9900000000000001" />
<text transform="translate(636.80,258.50) rotate(-90)" font-family="Liberation Serif" font-size="9.0" font-weight="bold" text-anchor="middle" fill="#1a1a1a" stroke="#1a1a1a" stroke-width="0.15" textLength="107.7" lengthAdjust="spacingAndGlyphs">Relative TIF1<tspan font-style="italic">γ</tspan> mRNA levels</text>
<path d="M741.40,244.30 L741.40,241.40 M741.40,244.30 L744.16,243.40 M741.40,244.30 L743.10,246.65 M741.40,244.30 L739.70,246.65 M741.40,244.30 L738.64,243.40 " stroke="#1a1a1a" stroke-width="1.15" stroke-linecap="round" fill="none"/>
<path d="M747.50,244.30 L747.50,241.40 M747.50,244.30 L750.26,243.40 M747.50,244.30 L749.20,246.65 M747.50,244.30 L745.80,246.65 M747.50,244.30 L744.74,243.40 " stroke="#1a1a1a" stroke-width="1.15" stroke-linecap="round" fill="none"/>
<path d="M753.60,244.30 L753.60,241.40 M753.60,244.30 L756.36,243.40 M753.60,244.30 L755.30,246.65 M753.60,244.30 L751.90,246.65 M753.60,244.30 L750.84,243.40 " stroke="#1a1a1a" stroke-width="1.15" stroke-linecap="round" fill="none"/>
<text x="689.80" y="320.80" font-family="Liberation Serif" font-size="8.6" font-weight="bold" text-anchor="middle" fill="#1a1a1a"  stroke="#1a1a1a" stroke-width="0.18">miR-NC</text>
<text x="747.50" y="320.80" font-family="Liberation Serif" font-size="8.6" font-weight="bold" text-anchor="middle" fill="#1a1a1a"  stroke="#1a1a1a" stroke-width="0.18">miR-429</text>
<text x="447.20" y="359.76" font-family="Liberation Sans" font-size="19.5" font-weight="bold" text-anchor="start" fill="#1a1a1a" stroke="#000" stroke-width="0.4">E</text>
<text transform="translate(546.80,370.40) scale(1.0,1.14)" x="0" y="0" font-family="Liberation Serif" font-size="11.2" font-weight="bold" text-anchor="middle" fill="#1a1a1a"  stroke="#1a1a1a" stroke-width="0.35">A549</text>
<text x="518.30" y="389.80" font-family="Liberation Serif" font-size="8.6" font-weight="bold" text-anchor="middle" fill="#1a1a1a"  stroke="#1a1a1a" stroke-width="0.18">miR-NC</text>
<text x="577.80" y="389.80" font-family="Liberation Serif" font-size="8.6" font-weight="bold" text-anchor="middle" fill="#1a1a1a"  stroke="#1a1a1a" stroke-width="0.18">miR-429</text>
<svg x="493.50" y="393.90" width="113.20" height="32.60" overflow="hidden">
<rect x="0.00" y="0.00" width="113.20" height="32.60" fill="#b6b6b6" stroke="none" stroke-width="1.0" />
<rect x="5.50" y="11.30" width="39.50" height="9.00" rx="4.5" fill="#1c1c1c" filter="url(#bl20)"/>
<rect x="62.00" y="11.50" width="40.00" height="8.00" rx="4.5" fill="#404040" filter="url(#bl20)"/>
</svg>
<rect x="493.50" y="393.90" width="113.20" height="32.60" fill="none" stroke="#111" stroke-width="1.4" />
<text transform="translate(518.00,437.20) scale(1.0,1.14)" x="0" y="0" font-family="Liberation Serif" font-size="11.4" font-weight="bold" text-anchor="middle" fill="#1a1a1a"  stroke="#1a1a1a" stroke-width="0.35">0.09</text>
<text transform="translate(576.00,437.20) scale(1.0,1.14)" x="0" y="0" font-family="Liberation Serif" font-size="11.4" font-weight="bold" text-anchor="middle" fill="#1a1a1a"  stroke="#1a1a1a" stroke-width="0.35">0.06</text>
<svg x="493.50" y="443.10" width="113.20" height="33.90" overflow="hidden">
<rect x="0.00" y="0.00" width="113.20" height="33.90" fill="#bababa" stroke="none" stroke-width="1.0" />
<rect x="1.70" y="8.20" width="51.80" height="22.80" rx="11" fill="#050505" filter="url(#bl11)"/>
<rect x="55.90" y="7.70" width="54.20" height="22.00" rx="11" fill="#050505" filter="url(#bl11)"/>
</svg>
<rect x="493.50" y="443.10" width="113.20" height="33.90" fill="none" stroke="#111" stroke-width="1.4" />
<text transform="translate(472.00,412.90) scale(1.0,1.15)" x="0" y="0" font-family="Liberation Serif" font-size="11.4" font-weight="bold" text-anchor="middle" fill="#1a1a1a"  stroke="#1a1a1a" stroke-width="0.35">TIF1<tspan font-style="italic">γ</tspan></text>
<text transform="translate(472.00,464.10) scale(1.0,1.15)" x="0" y="0" font-family="Liberation Serif" font-size="11.4" font-weight="bold" text-anchor="middle" fill="#1a1a1a"  stroke="#1a1a1a" stroke-width="0.35">β-actin</text>
<text transform="translate(716.10,370.40) scale(1.0,1.14)" x="0" y="0" font-family="Liberation Serif" font-size="11.2" font-weight="bold" text-anchor="middle" fill="#1a1a1a"  stroke="#1a1a1a" stroke-width="0.35">H226</text>
<text x="686.70" y="389.80" font-family="Liberation Serif" font-size="8.6" font-weight="bold" text-anchor="middle" fill="#1a1a1a"  stroke="#1a1a1a" stroke-width="0.18">miR-NC</text>
<text x="745.90" y="389.80" font-family="Liberation Serif" font-size="8.6" font-weight="bold" text-anchor="middle" fill="#1a1a1a"  stroke="#1a1a1a" stroke-width="0.18">miR-429</text>
<svg x="662.30" y="394.20" width="111.40" height="31.70" overflow="hidden">
<rect x="0.00" y="0.00" width="111.40" height="31.70" fill="#8c8c8c" stroke="none" stroke-width="1.0" />
<rect x="10.20" y="10.80" width="41.50" height="13.20" rx="6" fill="#0c0c0c" filter="url(#bl11)"/>
<rect x="65.40" y="12.30" width="40.30" height="10.00" rx="5" fill="#111111" filter="url(#bl11)"/>
</svg>
<rect x="662.30" y="394.20" width="111.40" height="31.70" fill="none" stroke="#111" stroke-width="1.4" />
<text transform="translate(690.30,437.00) scale(1.0,1.14)" x="0" y="0" font-family="Liberation Serif" font-size="11.4" font-weight="bold" text-anchor="middle" fill="#1a1a1a"  stroke="#1a1a1a" stroke-width="0.35">0.97</text>
<text transform="translate(745.90,437.00) scale(1.0,1.14)" x="0" y="0" font-family="Liberation Serif" font-size="11.4" font-weight="bold" text-anchor="middle" fill="#1a1a1a"  stroke="#1a1a1a" stroke-width="0.35">0.53</text>
<svg x="662.30" y="443.20" width="111.40" height="33.20" overflow="hidden">
<rect x="0.00" y="0.00" width="111.40" height="33.20" fill="#8a8a8a" stroke="none" stroke-width="1.0" />
<rect x="1.40" y="12.40" width="48.00" height="12.00" rx="6" fill="#0b0b0b" filter="url(#bl12)"/>
<rect x="56.10" y="11.00" width="53.50" height="12.00" rx="6" fill="#0b0b0b" filter="url(#bl12)"/>
</svg>
<rect x="662.30" y="443.20" width="111.40" height="33.20" fill="none" stroke="#111" stroke-width="1.4" />
<text transform="translate(642.00,412.70) scale(1.0,1.15)" x="0" y="0" font-family="Liberation Serif" font-size="11.4" font-weight="bold" text-anchor="middle" fill="#1a1a1a"  stroke="#1a1a1a" stroke-width="0.35">TIF1<tspan font-style="italic">γ</tspan></text>
<text transform="translate(642.00,463.80) scale(1.0,1.15)" x="0" y="0" font-family="Liberation Serif" font-size="11.4" font-weight="bold" text-anchor="middle" fill="#1a1a1a"  stroke="#1a1a1a" stroke-width="0.35">β-actin</text>
<text x="447.00" y="855.26" font-family="Liberation Sans" font-size="19.5" font-weight="bold" text-anchor="start" fill="#1a1a1a" stroke="#000" stroke-width="0.4">H</text>
<text transform="translate(549.60,866.10) scale(1.0,1.14)" x="0" y="0" font-family="Liberation Serif" font-size="11.2" font-weight="bold" text-anchor="middle" fill="#1a1a1a"  stroke="#1a1a1a" stroke-width="0.35">A549</text>
<text x="521.10" y="884.60" font-family="Liberation Serif" font-size="8.6" font-weight="bold" text-anchor="middle" fill="#1a1a1a"  stroke="#1a1a1a" stroke-width="0.18">Anti-miR-NC</text>
<text x="577.50" y="884.60" font-family="Liberation Serif" font-size="8.6" font-weight="bold" text-anchor="middle" fill="#1a1a1a"  stroke="#1a1a1a" stroke-width="0.18">Anti-miR-429</text>
<svg x="493.40" y="890.00" width="113.80" height="32.20" overflow="hidden">
<rect x="0.00" y="0.00" width="113.80" height="32.20" fill="#b8b8b8" stroke="none" stroke-width="1.0" />
<rect x="6.20" y="9.40" width="41.80" height="9.80" rx="4.5" fill="#666666" filter="url(#bl20)"/>
<rect x="61.60" y="8.60" width="45.00" height="10.00" rx="4.5" fill="#444444" filter="url(#bl20)"/>
</svg>
<rect x="493.40" y="890.00" width="113.80" height="32.20" fill="none" stroke="#111" stroke-width="1.4" />
<text transform="translate(518.40,933.70) scale(1.0,1.14)" x="0" y="0" font-family="Liberation Serif" font-size="11.4" font-weight="bold" text-anchor="middle" fill="#1a1a1a"  stroke="#1a1a1a" stroke-width="0.35">0.05</text>
<text transform="translate(578.50,933.70) scale(1.0,1.14)" x="0" y="0" font-family="Liberation Serif" font-size="11.4" font-weight="bold" text-anchor="middle" fill="#1a1a1a"  stroke="#1a1a1a" stroke-width="0.35">0.08</text>
<svg x="493.40" y="938.30" width="113.80" height="34.30" overflow="hidden">
<rect x="0.00" y="0.00" width="113.80" height="34.30" fill="#b6b6b6" stroke="none" stroke-width="1.0" />
<rect x="2.80" y="9.40" width="51.60" height="20.40" rx="10" fill="#050505" filter="url(#bl11)"/>
<rect x="59.80" y="9.40" width="52.50" height="20.40" rx="10" fill="#050505" filter="url(#bl11)"/>
</svg>
<rect x="493.40" y="938.30" width="113.80" height="34.30" fill="none" stroke="#111" stroke-width="1.4" />
<text transform="translate(472.80,907.70) scale(1.0,1.15)" x="0" y="0" font-family="Liberation Serif" font-size="11.4" font-weight="bold" text-anchor="middle" fill="#1a1a1a"  stroke="#1a1a1a" stroke-width="0.35">TIF1<tspan font-style="italic">γ</tspan></text>
<text transform="translate(472.80,958.90) scale(1.0,1.15)" x="0" y="0" font-family="Liberation Serif" font-size="11.4" font-weight="bold" text-anchor="middle" fill="#1a1a1a"  stroke="#1a1a1a" stroke-width="0.35">β-actin</text>
<text transform="translate(715.20,865.30) scale(1.0,1.14)" x="0" y="0" font-family="Liberation Serif" font-size="11.2" font-weight="bold" text-anchor="middle" fill="#1a1a1a"  stroke="#1a1a1a" stroke-width="0.35">H226</text>
<text x="689.80" y="884.90" font-family="Liberation Serif" font-size="8.6" font-weight="bold" text-anchor="middle" fill="#1a1a1a"  stroke="#1a1a1a" stroke-width="0.18">Anti-miR-NC</text>
<text x="749.50" y="884.90" font-family="Liberation Serif" font-size="8.6" font-weight="bold" text-anchor="middle" fill="#1a1a1a"  stroke="#1a1a1a" stroke-width="0.18">Anti-miR-429</text>
<svg x="661.40" y="889.60" width="113.10" height="32.80" overflow="hidden">
<rect x="0.00" y="0.00" width="113.10" height="32.80" fill="#b2b2b2" stroke="none" stroke-width="1.0" />
<rect x="6.90" y="10.40" width="39.60" height="13.20" rx="6" fill="#0a0a0a" filter="url(#bl13)"/>
<rect x="61.70" y="9.80" width="41.10" height="14.40" rx="6" fill="#0a0a0a" filter="url(#bl13)"/>
<rect x="8.10" y="16.40" width="10.50" height="10.50" rx="5" fill="#0a0a0a" filter="url(#bl11)"/>
</svg>
<rect x="661.40" y="889.60" width="113.10" height="32.80" fill="none" stroke="#111" stroke-width="1.4" />
<text transform="translate(686.20,933.30) scale(1.0,1.14)" x="0" y="0" font-family="Liberation Serif" font-size="11.4" font-weight="bold" text-anchor="middle" fill="#1a1a1a"  stroke="#1a1a1a" stroke-width="0.35">0.73</text>
<text transform="translate(741.80,933.30) scale(1.0,1.14)" x="0" y="0" font-family="Liberation Serif" font-size="11.4" font-weight="bold" text-anchor="middle" fill="#1a1a1a"  stroke="#1a1a1a" stroke-width="0.35">1.02</text>
<svg x="661.40" y="941.40" width="113.10" height="31.20" overflow="hidden">
<rect x="0.00" y="0.00" width="113.10" height="31.20" fill="#a9a9a9" stroke="none" stroke-width="1.0" />
<rect x="-6.40" y="9.00" width="125.00" height="13.00" rx="4" fill="#0a0a0a" filter="url(#bl12)"/>
</svg>
<rect x="661.40" y="941.40" width="113.10" height="31.20" fill="none" stroke="#111" stroke-width="1.4" />
<text transform="translate(642.70,909.80) scale(1.0,1.15)" x="0" y="0" font-family="Liberation Serif" font-size="11.4" font-weight="bold" text-anchor="middle" fill="#1a1a1a"  stroke="#1a1a1a" stroke-width="0.35">TIF1<tspan font-style="italic">γ</tspan></text>
<text transform="translate(642.70,958.30) scale(1.0,1.15)" x="0" y="0" font-family="Liberation Serif" font-size="11.4" font-weight="bold" text-anchor="middle" fill="#1a1a1a"  stroke="#1a1a1a" stroke-width="0.35">β-actin</text>
<text x="448.40" y="513.26" font-family="Liberation Sans" font-size="19.5" font-weight="bold" text-anchor="start" fill="#1a1a1a" stroke="#000" stroke-width="0.4">F</text>
<text transform="translate(547.70,529.00) scale(1.0,1.14)" x="0" y="0" font-family="Liberation Serif" font-size="11.2" font-weight="bold" text-anchor="middle" fill="#1a1a1a"  stroke="#1a1a1a" stroke-width="0.35">A549</text>
<text transform="translate(717.40,529.00) scale(1.0,1.14)" x="0" y="0" font-family="Liberation Serif" font-size="11.2" font-weight="bold" text-anchor="middle" fill="#1a1a1a"  stroke="#1a1a1a" stroke-width="0.35">H226</text>
<rect x="501.40" y="563.95" width="38.20" height="68.15" fill="#fff" stroke="#1a1a1a" stroke-width="1.3" />
<line x1="520.50" y1="563.95" x2="520.50" y2="558.44" stroke="#1a1a1a" stroke-width="1.3" />
<line x1="509.42" y1="558.44" x2="531.58" y2="558.44" stroke="#1a1a1a" stroke-width="1.3" />
<rect x="558.10" y="585.41" width="38.90" height="46.69" fill="#42be42" stroke="#1a1a1a" stroke-width="1.3" />
<line x1="577.55" y1="585.41" x2="577.55" y2="580.48" stroke="#1a1a1a" stroke-width="1.3" />
<line x1="566.27" y1="580.48" x2="588.83" y2="580.48" stroke="#1a1a1a" stroke-width="1.3" />
<line x1="491.70" y1="544.60" x2="491.70" y2="632.60" stroke="#4a4a4a" stroke-width="1.1" />
<line x1="491.20" y1="632.10" x2="607.00" y2="632.10" stroke="#4a4a4a" stroke-width="1.1" />
<line x1="489.50" y1="632.10" x2="491.70" y2="632.10" stroke="#4a4a4a" stroke-width="0.9900000000000001" />
<text transform="translate(489.10,634.55) scale(0.78,1.0)" x="0" y="0" font-family="Liberation Sans" font-size="6.8" font-weight="bold" text-anchor="end" fill="#1e1e1e" >0</text>
<line x1="489.50" y1="603.10" x2="491.70" y2="603.10" stroke="#4a4a4a" stroke-width="0.9900000000000001" />
<text transform="translate(489.10,605.55) scale(0.78,1.0)" x="0" y="0" font-family="Liberation Sans" font-size="6.8" font-weight="bold" text-anchor="end" fill="#1e1e1e" >1e-006</text>
<line x1="489.50" y1="574.10" x2="491.70" y2="574.10" stroke="#4a4a4a" stroke-width="0.9900000000000001" />
<text transform="translate(489.10,576.55) scale(0.78,1.0)" x="0" y="0" font-family="Liberation Sans" font-size="6.8" font-weight="bold" text-anchor="end" fill="#1e1e1e" >2e-006</text>
<line x1="489.50" y1="545.10" x2="491.70" y2="545.10" stroke="#4a4a4a" stroke-width="0.9900000000000001" />
<text transform="translate(489.10,547.55) scale(0.78,1.0)" x="0" y="0" font-family="Liberation Sans" font-size="6.8" font-weight="bold" text-anchor="end" fill="#1e1e1e" >3e-006</text>
<line x1="520.50" y1="632.10" x2="520.50" y2="634.60" stroke="#4a4a4a" stroke-width="0.9900000000000001" />
<line x1="577.60" y1="632.10" x2="577.60" y2="634.60" stroke="#4a4a4a" stroke-width="0.9900000000000001" />
<text transform="translate(465.50,587.00) rotate(-90)" font-family="Liberation Serif" font-size="9.0" font-weight="bold" text-anchor="middle" fill="#1a1a1a" stroke="#1a1a1a" stroke-width="0.15" textLength="88.0" lengthAdjust="spacingAndGlyphs">Relative miR-429 levels</text>
<path d="M576.80,573.60 L576.80,570.70 M576.80,573.60 L579.56,572.70 M576.80,573.60 L578.50,575.95 M576.80,573.60 L575.10,575.95 M576.80,573.60 L574.04,572.70 " stroke="#1a1a1a" stroke-width="1.15" stroke-linecap="round" fill="none"/>
<text x="520.50" y="644.00" font-family="Liberation Serif" font-size="8.6" font-weight="bold" text-anchor="middle" fill="#1a1a1a"  stroke="#1a1a1a" stroke-width="0.18">Anti-miR-NC</text>
<text x="577.60" y="644.00" font-family="Liberation Serif" font-size="8.6" font-weight="bold" text-anchor="middle" fill="#1a1a1a"  stroke="#1a1a1a" stroke-width="0.18">Anti-miR-429</text>
<rect x="670.50" y="557.39" width="38.90" height="74.51" fill="#fff" stroke="#1a1a1a" stroke-width="1.3" />
<line x1="689.95" y1="557.39" x2="689.95" y2="555.15" stroke="#1a1a1a" stroke-width="1.3" />
<line x1="678.67" y1="555.15" x2="701.23" y2="555.15" stroke="#1a1a1a" stroke-width="1.3" />
<rect x="728.50" y="610.18" width="38.60" height="21.72" fill="#42be42" stroke="#1a1a1a" stroke-width="1.3" />
<line x1="747.80" y1="610.18" x2="747.80" y2="609.44" stroke="#1a1a1a" stroke-width="1.3" />
<line x1="736.61" y1="609.44" x2="758.99" y2="609.44" stroke="#1a1a1a" stroke-width="1.3" />
<line x1="660.60" y1="537.80" x2="660.60" y2="632.40" stroke="#4a4a4a" stroke-width="1.1" />
<line x1="660.10" y1="631.90" x2="777.50" y2="631.90" stroke="#4a4a4a" stroke-width="1.1" />
<line x1="658.40" y1="631.90" x2="660.60" y2="631.90" stroke="#4a4a4a" stroke-width="0.9900000000000001" />
<text transform="translate(658.00,634.35) scale(0.78,1.0)" x="0" y="0" font-family="Liberation Sans" font-size="6.8" font-weight="bold" text-anchor="end" fill="#1e1e1e" >0</text>
<line x1="658.40" y1="613.18" x2="660.60" y2="613.18" stroke="#4a4a4a" stroke-width="0.9900000000000001" />
<text transform="translate(658.00,615.63) scale(0.78,1.0)" x="0" y="0" font-family="Liberation Sans" font-size="6.8" font-weight="bold" text-anchor="end" fill="#1e1e1e" >5e-007</text>
<line x1="658.40" y1="594.46" x2="660.60" y2="594.46" stroke="#4a4a4a" stroke-width="0.9900000000000001" />
<text transform="translate(658.00,596.91) scale(0.78,1.0)" x="0" y="0" font-family="Liberation Sans" font-size="6.8" font-weight="bold" text-anchor="end" fill="#1e1e1e" >1e-006</text>
<line x1="658.40" y1="575.74" x2="660.60" y2="575.74" stroke="#4a4a4a" stroke-width="0.9900000000000001" />
<text transform="translate(658.00,578.19) scale(0.78,1.0)" x="0" y="0" font-family="Liberation Sans" font-size="6.8" font-weight="bold" text-anchor="end" fill="#1e1e1e" >2e-006</text>
<line x1="658.40" y1="557.02" x2="660.60" y2="557.02" stroke="#4a4a4a" stroke-width="0.9900000000000001" />
<text transform="translate(658.00,559.47) scale(0.78,1.0)" x="0" y="0" font-family="Liberation Sans" font-size="6.8" font-weight="bold" text-anchor="end" fill="#1e1e1e" >2e-006</text>
<line x1="658.40" y1="538.30" x2="660.60" y2="538.30" stroke="#4a4a4a" stroke-width="0.9900000000000001" />
<text transform="translate(658.00,540.75) scale(0.78,1.0)" x="0" y="0" font-family="Liberation Sans" font-size="6.8" font-weight="bold" text-anchor="end" fill="#1e1e1e" >2e-006</text>
<line x1="690.00" y1="631.90" x2="690.00" y2="634.40" stroke="#4a4a4a" stroke-width="0.9900000000000001" />
<line x1="747.80" y1="631.90" x2="747.80" y2="634.40" stroke="#4a4a4a" stroke-width="0.9900000000000001" />
<text transform="translate(631.00,583.90) rotate(-90)" font-family="Liberation Serif" font-size="9.0" font-weight="bold" text-anchor="middle" fill="#1a1a1a" stroke="#1a1a1a" stroke-width="0.15" textLength="88.6" lengthAdjust="spacingAndGlyphs">Relative miR-429 levels</text>
<path d="M741.80,602.30 L741.80,599.40 M741.80,602.30 L744.56,601.40 M741.80,602.30 L743.50,604.65 M741.80,602.30 L740.10,604.65 M741.80,602.30 L739.04,601.40 " stroke="#1a1a1a" stroke-width="1.15" stroke-linecap="round" fill="none"/>
<path d="M747.90,602.30 L747.90,599.40 M747.90,602.30 L750.66,601.40 M747.90,602.30 L749.60,604.65 M747.90,602.30 L746.20,604.65 M747.90,602.30 L745.14,601.40 " stroke="#1a1a1a" stroke-width="1.15" stroke-linecap="round" fill="none"/>
<path d="M754.00,602.30 L754.00,599.40 M754.00,602.30 L756.76,601.40 M754.00,602.30 L755.70,604.65 M754.00,602.30 L752.30,604.65 M754.00,602.30 L751.24,601.40 " stroke="#1a1a1a" stroke-width="1.15" stroke-linecap="round" fill="none"/>
<text x="689.80" y="644.00" font-family="Liberation Serif" font-size="8.6" font-weight="bold" text-anchor="middle" fill="#1a1a1a"  stroke="#1a1a1a" stroke-width="0.18">Anti-miR-NC</text>
<text x="747.60" y="644.00" font-family="Liberation Serif" font-size="8.6" font-weight="bold" text-anchor="middle" fill="#1a1a1a"  stroke="#1a1a1a" stroke-width="0.18">Anti-miR-429</text>
<text x="446.80" y="681.96" font-family="Liberation Sans" font-size="19.5" font-weight="bold" text-anchor="start" fill="#1a1a1a" stroke="#000" stroke-width="0.4">G</text>
<text transform="translate(547.70,695.50) scale(1.0,1.14)" x="0" y="0" font-family="Liberation Serif" font-size="11.2" font-weight="bold" text-anchor="middle" fill="#1a1a1a"  stroke="#1a1a1a" stroke-width="0.35">A549</text>
<text transform="translate(717.00,695.50) scale(1.0,1.14)" x="0" y="0" font-family="Liberation Serif" font-size="11.2" font-weight="bold" text-anchor="middle" fill="#1a1a1a"  stroke="#1a1a1a" stroke-width="0.35">H226</text>
<rect x="501.40" y="747.38" width="38.20" height="56.92" fill="#fff" stroke="#1a1a1a" stroke-width="1.3" />
<line x1="520.50" y1="747.38" x2="520.50" y2="746.77" stroke="#1a1a1a" stroke-width="1.3" />
<line x1="509.42" y1="746.77" x2="531.58" y2="746.77" stroke="#1a1a1a" stroke-width="1.3" />
<rect x="558.10" y="727.49" width="38.90" height="76.81" fill="#0a3cf0" stroke="#1a1a1a" stroke-width="1.3" />
<line x1="577.55" y1="727.49" x2="577.55" y2="726.58" stroke="#1a1a1a" stroke-width="1.3" />
<line x1="566.27" y1="726.58" x2="588.83" y2="726.58" stroke="#1a1a1a" stroke-width="1.3" />
<line x1="492.20" y1="712.00" x2="492.20" y2="804.80" stroke="#4a4a4a" stroke-width="1.1" />
<line x1="491.70" y1="804.30" x2="607.00" y2="804.30" stroke="#4a4a4a" stroke-width="1.1" />
<line x1="490.00" y1="804.30" x2="492.20" y2="804.30" stroke="#4a4a4a" stroke-width="0.9900000000000001" />
<text transform="translate(489.60,806.75) scale(0.78,1.0)" x="0" y="0" font-family="Liberation Sans" font-size="6.8" font-weight="bold" text-anchor="end" fill="#1e1e1e" >0.00</text>
<line x1="490.00" y1="773.70" x2="492.20" y2="773.70" stroke="#4a4a4a" stroke-width="0.9900000000000001" />
<text transform="translate(489.60,776.15) scale(0.78,1.0)" x="0" y="0" font-family="Liberation Sans" font-size="6.8" font-weight="bold" text-anchor="end" fill="#1e1e1e" >0.01</text>
<line x1="490.00" y1="743.10" x2="492.20" y2="743.10" stroke="#4a4a4a" stroke-width="0.9900000000000001" />
<text transform="translate(489.60,745.55) scale(0.78,1.0)" x="0" y="0" font-family="Liberation Sans" font-size="6.8" font-weight="bold" text-anchor="end" fill="#1e1e1e" >0.02</text>
<line x1="490.00" y1="712.50" x2="492.20" y2="712.50" stroke="#4a4a4a" stroke-width="0.9900000000000001" />
<text transform="translate(489.60,714.95) scale(0.78,1.0)" x="0" y="0" font-family="Liberation Sans" font-size="6.8" font-weight="bold" text-anchor="end" fill="#1e1e1e" >0.03</text>
<line x1="520.50" y1="804.30" x2="520.50" y2="806.80" stroke="#4a4a4a" stroke-width="0.9900000000000001" />
<line x1="577.60" y1="804.30" x2="577.60" y2="806.80" stroke="#4a4a4a" stroke-width="0.9900000000000001" />
<text transform="translate(469.00,757.80) rotate(-90)" font-family="Liberation Serif" font-size="9.2" font-weight="bold" text-anchor="middle" fill="#1a1a1a" stroke="#1a1a1a" stroke-width="0.15" textLength="111.6" lengthAdjust="spacingAndGlyphs">Relative TIF1<tspan font-style="italic">γ</tspan> mRNA levels</text>
<path d="M570.90,718.80 L570.90,715.90 M570.90,718.80 L573.66,717.90 M570.90,718.80 L572.60,721.15 M570.90,718.80 L569.20,721.15 M570.90,718.80 L568.14,717.90 " stroke="#1a1a1a" stroke-width="1.15" stroke-linecap="round" fill="none"/>
<path d="M577.00,718.80 L577.00,715.90 M577.00,718.80 L579.76,717.90 M577.00,718.80 L578.70,721.15 M577.00,718.80 L575.30,721.15 M577.00,718.80 L574.24,717.90 " stroke="#1a1a1a" stroke-width="1.15" stroke-linecap="round" fill="none"/>
<path d="M583.10,718.80 L583.10,715.90 M583.10,718.80 L585.86,717.90 M583.10,718.80 L584.80,721.15 M583.10,718.80 L581.40,721.15 M583.10,718.80 L580.34,717.90 " stroke="#1a1a1a" stroke-width="1.15" stroke-linecap="round" fill="none"/>
<text x="520.50" y="816.00" font-family="Liberation Serif" font-size="8.6" font-weight="bold" text-anchor="middle" fill="#1a1a1a"  stroke="#1a1a1a" stroke-width="0.18">Anti-miR-NC</text>
<text x="577.60" y="816.00" font-family="Liberation Serif" font-size="8.6" font-weight="bold" text-anchor="middle" fill="#1a1a1a"  stroke="#1a1a1a" stroke-width="0.18">Anti-miR-429</text>
<rect x="670.50" y="751.20" width="38.90" height="53.00" fill="#fff" stroke="#1a1a1a" stroke-width="1.3" />
<line x1="689.95" y1="751.20" x2="689.95" y2="749.39" stroke="#1a1a1a" stroke-width="1.3" />
<line x1="678.67" y1="749.39" x2="701.23" y2="749.39" stroke="#1a1a1a" stroke-width="1.3" />
<rect x="728.50" y="734.44" width="38.60" height="69.76" fill="#0a3cf0" stroke="#1a1a1a" stroke-width="1.3" />
<line x1="747.80" y1="734.44" x2="747.80" y2="733.53" stroke="#1a1a1a" stroke-width="1.3" />
<line x1="736.61" y1="733.53" x2="758.99" y2="733.53" stroke="#1a1a1a" stroke-width="1.3" />
<line x1="661.30" y1="713.10" x2="661.30" y2="804.70" stroke="#4a4a4a" stroke-width="1.1" />
<line x1="660.80" y1="804.20" x2="777.50" y2="804.20" stroke="#4a4a4a" stroke-width="1.1" />
<line x1="659.10" y1="804.20" x2="661.30" y2="804.20" stroke="#4a4a4a" stroke-width="0.9900000000000001" />
<text transform="translate(658.70,806.65) scale(0.78,1.0)" x="0" y="0" font-family="Liberation Sans" font-size="6.8" font-weight="bold" text-anchor="end" fill="#1e1e1e" >0.000</text>
<line x1="659.10" y1="781.55" x2="661.30" y2="781.55" stroke="#4a4a4a" stroke-width="0.9900000000000001" />
<text transform="translate(658.70,784.00) scale(0.78,1.0)" x="0" y="0" font-family="Liberation Sans" font-size="6.8" font-weight="bold" text-anchor="end" fill="#1e1e1e" >0.005</text>
<line x1="659.10" y1="758.90" x2="661.30" y2="758.90" stroke="#4a4a4a" stroke-width="0.9900000000000001" />
<text transform="translate(658.70,761.35) scale(0.78,1.0)" x="0" y="0" font-family="Liberation Sans" font-size="6.8" font-weight="bold" text-anchor="end" fill="#1e1e1e" >0.010</text>
<line x1="659.10" y1="736.25" x2="661.30" y2="736.25" stroke="#4a4a4a" stroke-width="0.9900000000000001" />
<text transform="translate(658.70,738.70) scale(0.78,1.0)" x="0" y="0" font-family="Liberation Sans" font-size="6.8" font-weight="bold" text-anchor="end" fill="#1e1e1e" >0.015</text>
<line x1="659.10" y1="713.60" x2="661.30" y2="713.60" stroke="#4a4a4a" stroke-width="0.9900000000000001" />
<text transform="translate(658.70,716.05) scale(0.78,1.0)" x="0" y="0" font-family="Liberation Sans" font-size="6.8" font-weight="bold" text-anchor="end" fill="#1e1e1e" >0.020</text>
<line x1="690.00" y1="804.20" x2="690.00" y2="806.70" stroke="#4a4a4a" stroke-width="0.9900000000000001" />
<line x1="747.80" y1="804.20" x2="747.80" y2="806.70" stroke="#4a4a4a" stroke-width="0.9900000000000001" />
<text transform="translate(636.80,758.20) rotate(-90)" font-family="Liberation Serif" font-size="9.0" font-weight="bold" text-anchor="middle" fill="#1a1a1a" stroke="#1a1a1a" stroke-width="0.15" textLength="108.3" lengthAdjust="spacingAndGlyphs">Relative TIF1<tspan font-style="italic">γ</tspan> mRNA levels</text>
<path d="M741.80,725.60 L741.80,722.70 M741.80,725.60 L744.56,724.70 M741.80,725.60 L743.50,727.95 M741.80,725.60 L740.10,727.95 M741.80,725.60 L739.04,724.70 " stroke="#1a1a1a" stroke-width="1.15" stroke-linecap="round" fill="none"/>
<path d="M747.90,725.60 L747.90,722.70 M747.90,725.60 L750.66,724.70 M747.90,725.60 L749.60,727.95 M747.90,725.60 L746.20,727.95 M747.90,725.60 L745.14,724.70 " stroke="#1a1a1a" stroke-width="1.15" stroke-linecap="round" fill="none"/>
<path d="M754.00,725.60 L754.00,722.70 M754.00,725.60 L756.76,724.70 M754.00,725.60 L755.70,727.95 M754.00,725.60 L752.30,727.95 M754.00,725.60 L751.24,724.70 " stroke="#1a1a1a" stroke-width="1.15" stroke-linecap="round" fill="none"/>
<text x="689.80" y="816.00" font-family="Liberation Serif" font-size="8.6" font-weight="bold" text-anchor="middle" fill="#1a1a1a"  stroke="#1a1a1a" stroke-width="0.18">Anti-miR-NC</text>
<text x="747.60" y="816.00" font-family="Liberation Serif" font-size="8.6" font-weight="bold" text-anchor="middle" fill="#1a1a1a"  stroke="#1a1a1a" stroke-width="0.18">Anti-miR-429</text>
</svg>
</body></html>
